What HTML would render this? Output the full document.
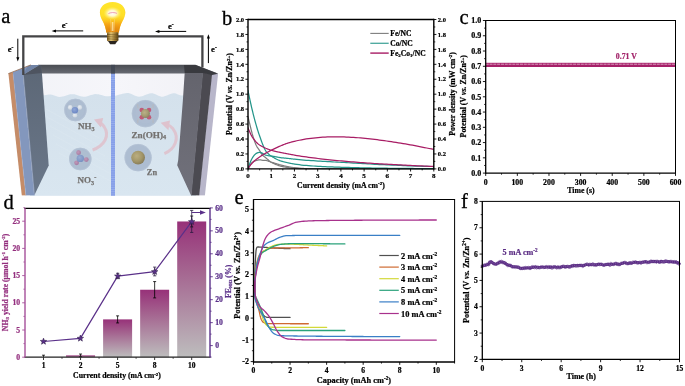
<!DOCTYPE html>
<html><head><meta charset="utf-8"><title>Figure</title>
<style>
html,body{margin:0;padding:0;background:#fff;}
body{width:685px;height:386px;overflow:hidden;}
svg{display:block;font-family:"Liberation Serif", serif;}
</style></head><body>
<svg width="685" height="386" viewBox="0 0 685 386">
<rect width="685" height="386" fill="#fff"/>
<defs>
<linearGradient id="gWater" x1="0" y1="0" x2="0" y2="1"><stop offset="0" stop-color="#d4e1ec"/><stop offset="1" stop-color="#d9e6f0"/></linearGradient>
<linearGradient id="gBack" x1="0" y1="0" x2="1" y2="0"><stop offset="0" stop-color="#f2f3f8"/><stop offset="0.5" stop-color="#f6f6fa"/><stop offset="1" stop-color="#f1f1f6"/></linearGradient>
<linearGradient id="gRim" x1="0" y1="0" x2="0" y2="1"><stop offset="0" stop-color="#4a4d53"/><stop offset="1" stop-color="#676a72"/></linearGradient>
<linearGradient id="gLE" x1="0" y1="0" x2="0" y2="1"><stop offset="0" stop-color="#5c6776"/><stop offset="1" stop-color="#6a7789"/></linearGradient>
<linearGradient id="gRE" x1="0" y1="0" x2="0" y2="1"><stop offset="0" stop-color="#64646d"/><stop offset="1" stop-color="#71717b"/></linearGradient>
<radialGradient id="gBulb" cx="0.5" cy="0.42" r="0.6"><stop offset="0" stop-color="#ffffff"/><stop offset="0.22" stop-color="#fff6b0"/><stop offset="0.5" stop-color="#ffe233"/><stop offset="0.8" stop-color="#fbc11f"/><stop offset="1" stop-color="#f29a15"/></radialGradient>
<linearGradient id="gBulbV" x1="0" y1="0" x2="0" y2="1"><stop offset="0" stop-color="#ffe42a" stop-opacity="0"/><stop offset="0.45" stop-color="#ffd21f" stop-opacity="0.3"/><stop offset="0.72" stop-color="#f5a015" stop-opacity="0.9"/><stop offset="1" stop-color="#d9780c" stop-opacity="1"/></linearGradient>
<radialGradient id="gBulbE" cx="0.5" cy="0.4" r="0.62"><stop offset="0.75" stop-color="#f0a010" stop-opacity="0"/><stop offset="1" stop-color="#e08a10" stop-opacity="0.75"/></radialGradient>
<radialGradient id="gGlow" cx="0.5" cy="0.5" r="0.5"><stop offset="0" stop-color="#fff" stop-opacity="1"/><stop offset="0.45" stop-color="#fffbe0" stop-opacity="0.9"/><stop offset="1" stop-color="#fff27a" stop-opacity="0"/></radialGradient>
<linearGradient id="gBase" x1="0" y1="0" x2="1" y2="0"><stop offset="0" stop-color="#7a5a20"/><stop offset="0.35" stop-color="#e3c474"/><stop offset="0.7" stop-color="#a07c34"/><stop offset="1" stop-color="#5a4214"/></linearGradient>
<radialGradient id="gZn" cx="0.4" cy="0.38" r="0.65"><stop offset="0" stop-color="#bcab72"/><stop offset="0.6" stop-color="#a08f56"/><stop offset="1" stop-color="#7d6e40"/></radialGradient>
<radialGradient id="gN" cx="0.4" cy="0.38" r="0.65"><stop offset="0" stop-color="#7f9ad8"/><stop offset="1" stop-color="#4d6cbc"/></radialGradient>
<radialGradient id="gN2" cx="0.4" cy="0.38" r="0.65"><stop offset="0" stop-color="#8fa4d2"/><stop offset="1" stop-color="#6580bb"/></radialGradient>
<radialGradient id="gO" cx="0.4" cy="0.38" r="0.65"><stop offset="0" stop-color="#c58bb0"/><stop offset="1" stop-color="#a0628f"/></radialGradient>
<radialGradient id="gH" cx="0.4" cy="0.38" r="0.7"><stop offset="0" stop-color="#ffffff"/><stop offset="1" stop-color="#d5dae2"/></radialGradient>
<clipPath id="ca"><rect x="0" y="0" width="222" height="195.7"/></clipPath>
</defs>
<g clip-path="url(#ca)">
<path d="M40 72 L203 72 L196 196 L30 196Z" fill="url(#gBack)"/>
<path d="M40 95.6 L41.5 95.49 L43 95.36 L44.5 95.18 L46 94.92 L47.5 94.66 L49 94.51 L50.5 94.57 L52 94.87 L53.5 95.31 L55 95.82 L56.5 96.31 L58 96.69 L59.5 96.89 L61 96.84 L62.5 96.58 L64 96.17 L65.5 95.69 L67 95.18 L68.5 94.71 L70 94.34 L71.5 94.13 L73 94.13 L74.5 94.36 L76 94.74 L77.5 95.22 L79 95.71 L80.5 96.17 L82 96.52 L83.5 96.69 L85 96.64 L86.5 96.4 L88 96.02 L89.5 95.56 L91 95.08 L92.5 94.65 L94 94.3 L95.5 94.12 L97 94.14 L98.5 94.35 L100 94.7 L101.5 95.11 L103 95.53 L104.5 95.89 L106 96.13 L107.5 96.2 L109 96.16 L110.5 96.08 L112 95.98 L113.5 95.85 L115 95.65 L116.5 95.38 L118 95.02 L119.5 94.61 L121 94.18 L122.5 93.77 L124 93.41 L125.5 93.14 L127 93.01 L128.5 93.08 L130 93.43 L131.5 94 L133 94.68 L134.5 95.39 L136 96.02 L137.5 96.49 L139 96.7 L140.5 96.59 L142 96.24 L143.5 95.72 L145 95.1 L146.5 94.46 L148 93.89 L149.5 93.45 L151 93.22 L152.5 93.29 L154 93.7 L155.5 94.34 L157 95.07 L158.5 95.79 L160 96.37 L161.5 96.68 L163 96.63 L164.5 96.32 L166 95.82 L167.5 95.21 L169 94.57 L170.5 93.97 L172 93.5 L173.5 93.23 L175 93.28 L176.5 93.76 L178 94.44 L179.5 95.07 L181 95.39 L182.5 95.4 L184 95.37 L185.5 95.31 L187 95.17 L188.5 94.94 L190 94.6 L196 196 L30 196Z" fill="url(#gWater)"/>
<path d="M44 108 L99 138" stroke="#e8f0f7" stroke-width="1" opacity="0.2" fill="none"/>
<path d="M47 117 L102 147" stroke="#e8f0f7" stroke-width="1" opacity="0.2" fill="none"/>
<path d="M50 126 L105 156" stroke="#e8f0f7" stroke-width="1" opacity="0.2" fill="none"/>
<path d="M53 135 L108 165" stroke="#e8f0f7" stroke-width="1" opacity="0.2" fill="none"/>
<path d="M56 144 L111 174" stroke="#e8f0f7" stroke-width="1" opacity="0.2" fill="none"/>
<path d="M59 153 L114 183" stroke="#e8f0f7" stroke-width="1" opacity="0.2" fill="none"/>
<rect x="111.0" y="72.5" width="4.0" height="124" fill="#869fe8"/>
<line x1="113.0" y1="72.5" x2="113.0" y2="196" stroke="#aabdf2" stroke-width="4.0" stroke-dasharray="0.8 1.4" opacity="0.5"/>
<path d="M38 64.8 L195.4 64.8 L218 73.6 L201 73.6 L40 73.6Z" fill="url(#gRim)"/>
<rect x="111.0" y="64.8" width="4.0" height="8.8" fill="#3f4653" opacity="0.8"/>
<path d="M8.4 73.6 L13.1 72 L25.9 195.6 L21.8 195.6Z" fill="#c58c68"/>
<path d="M13 72 L30.9 64.9 L39.5 65.1 L23 75 L34.2 195.6 L25.9 195.6 L13.1 74.2Z" fill="#8397bd"/>
<path d="M23 75 L39.5 65.1 L41 64.9 L41.9 72.5 L48.7 165.6 L34.2 195.6Z" fill="url(#gLE)"/>
<path d="M23 75 L39.5 65.1 L41 64.9 L41.9 73 L30 74.2Z" fill="#4b515c" opacity="0.85"/>
<path d="M23 75 L27.5 66.2 L30.9 64.9 L39.5 65.1Z" fill="#6a7c9c" opacity="0.7"/>
<path d="M23.3 75 L34.5 195.6" stroke="#a6b6da" stroke-width="0.7" fill="none" opacity="0.8"/>
<path d="M13.1 74.2 L25.9 195.6" stroke="#a3b4d8" stroke-width="0.6" fill="none" opacity="0.7"/>
<path d="M8.4 73.6 L30.9 64.9" stroke="#8e664c" stroke-width="0.8" fill="none"/>
<path d="M211.7 74 L218.1 73.7 L204.9 195.6 L198.8 195.6Z" fill="#b8b6ca"/>
<path d="M202.6 72.6 L212.1 74 L199.2 195.6 L191 195.6Z" fill="#4b4a51"/>
<path d="M184.7 72.6 L203.1 72.6 L191.5 195.6 L191.1 195.6 L177.2 165.3 L178.2 160 L182.9 100Z" fill="url(#gRE)"/>
<path d="M184 64.9 L195.4 64.9 L218.1 73.7 L212 74.9 L203 72.9 L184.7 72.9Z" fill="#393a3f"/>
<circle cx="75.4" cy="110" r="11.2" fill="#a3b3c9" opacity="0.8"/>
<circle cx="75.4" cy="110" r="10.899999999999999" fill="none" stroke="#bcc9da" stroke-width="0.6" opacity="0.8"/>
<circle cx="70.2" cy="107.4" r="2.3" fill="url(#gH)"/>
<circle cx="79.8" cy="107.4" r="2.3" fill="url(#gH)"/>
<circle cx="75.0" cy="115.2" r="2.3" fill="url(#gH)"/>
<circle cx="74.9" cy="110.2" r="3.2" fill="url(#gN)"/>
<circle cx="75.4" cy="110" r="9" fill="#b4c2d4" opacity="0.3"/>
<circle cx="80.3" cy="159" r="11.2" fill="#a3b3c9" opacity="0.8"/>
<circle cx="80.3" cy="159" r="10.899999999999999" fill="none" stroke="#bcc9da" stroke-width="0.6" opacity="0.8"/>
<circle cx="78.6" cy="152.7" r="2.4" fill="url(#gO)"/>
<circle cx="86.3" cy="159.6" r="2.4" fill="url(#gO)"/>
<circle cx="76.6" cy="162.8" r="2.4" fill="url(#gO)"/>
<circle cx="80.3" cy="158.4" r="3.7" fill="url(#gN2)"/>
<circle cx="80.3" cy="159" r="9" fill="#b4c2d4" opacity="0.25"/>
<circle cx="145.4" cy="113.6" r="13.6" fill="#a3b3c9" opacity="0.8"/>
<circle cx="145.4" cy="113.6" r="13.299999999999999" fill="none" stroke="#bcc9da" stroke-width="0.6" opacity="0.8"/>
<path d="M140.60000000000002 108.8 L138.0 107.6 L137.60000000000002 104.8" stroke="#b4bac4" stroke-width="1.6" fill="none" stroke-linecap="round" stroke-linejoin="round"/>
<circle cx="141.8" cy="110.0" r="2.3" fill="#c23e5c"/>
<path d="M150.2 108.8 L152.8 107.6 L153.2 104.8" stroke="#b4bac4" stroke-width="1.6" fill="none" stroke-linecap="round" stroke-linejoin="round"/>
<circle cx="149.0" cy="110.0" r="2.3" fill="#c23e5c"/>
<path d="M140.60000000000002 118.39999999999999 L138.0 119.6 L137.60000000000002 122.39999999999999" stroke="#b4bac4" stroke-width="1.6" fill="none" stroke-linecap="round" stroke-linejoin="round"/>
<circle cx="141.8" cy="117.19999999999999" r="2.3" fill="#c23e5c"/>
<path d="M150.2 118.39999999999999 L152.8 119.6 L153.2 122.39999999999999" stroke="#b4bac4" stroke-width="1.6" fill="none" stroke-linecap="round" stroke-linejoin="round"/>
<circle cx="149.0" cy="117.19999999999999" r="2.3" fill="#c23e5c"/>
<circle cx="145.4" cy="113.6" r="4.5" fill="url(#gZn)"/>
<circle cx="145.4" cy="113.6" r="10" fill="#b4c2d4" opacity="0.22"/>
<circle cx="138.1" cy="157.6" r="13.6" fill="#a3b3c9" opacity="0.8"/>
<circle cx="138.1" cy="157.6" r="13.299999999999999" fill="none" stroke="#bcc9da" stroke-width="0.6" opacity="0.8"/>
<circle cx="138.1" cy="157.6" r="6.9" fill="url(#gZn)"/>
<circle cx="138.1" cy="157.6" r="8" fill="#b4c2d4" opacity="0.15"/>
<path d="M92.6 150 C104 146 110.5 136 104 126.5 C102.6 124.6 101 123.2 99.4 122.4" fill="none" stroke="#dec2cd" stroke-width="3.0" opacity="0.92"/>
<path d="M94 119.6 L103.2 118 L100.8 127.6Z" fill="#dec2cd"/>
<path d="M164.4 153.6 C175 149 180 138 173 128.8 C171.2 126.6 169 125.2 167 124.6" fill="none" stroke="#dec2cd" stroke-width="3.0" opacity="0.92"/>
<path d="M160.6 122.8 L170 120.6 L168.4 130.2Z" fill="#dec2cd"/>
<text x="78.1" y="129.4" font-size="9.0" text-anchor="start" fill="#747270" font-weight="bold" stroke="#747270" stroke-width="0.25">NH<tspan dy="1.8" font-size="6.2">3</tspan></text>
<text x="77.6" y="183.1" font-size="9.0" text-anchor="start" fill="#747270" font-weight="bold" stroke="#747270" stroke-width="0.25">NO<tspan dy="1.8" font-size="6.2">3</tspan><tspan dy="-5.6" font-size="6.2">-</tspan></text>
<text x="131.4" y="137.5" font-size="9.2" text-anchor="start" fill="#747270" font-weight="bold" stroke="#747270" stroke-width="0.25">Zn(OH)<tspan dy="1.8" font-size="6.2">4</tspan></text>
<text x="146.8" y="175.3" font-size="8.4" text-anchor="start" fill="#747270" font-weight="bold" stroke="#747270" stroke-width="0.25">Zn</text>
</g>
<path d="M23.3 75 L23.3 36.3 L202.4 36.3 L202.4 67.6" fill="none" stroke="#444446" stroke-width="2.3" stroke-linejoin="miter"/>
<path d="M112.6 1.9 C121 1.9 125.3 7.2 125.3 12.4 C125.3 19 119.8 22.5 118.9 32.6 L106.4 32.6 C105.5 22.5 99.9 19 99.9 12.4 C99.9 7.2 104.2 1.9 112.6 1.9Z" fill="#ffe42a"/>
<path d="M112.6 1.9 C121 1.9 125.3 7.2 125.3 12.4 C125.3 19 119.8 22.5 118.9 32.6 L106.4 32.6 C105.5 22.5 99.9 19 99.9 12.4 C99.9 7.2 104.2 1.9 112.6 1.9Z" fill="url(#gBulbV)"/>
<path d="M112.6 1.9 C121 1.9 125.3 7.2 125.3 12.4 C125.3 19 119.8 22.5 118.9 32.6 L106.4 32.6 C105.5 22.5 99.9 19 99.9 12.4 C99.9 7.2 104.2 1.9 112.6 1.9Z" fill="url(#gBulbE)"/>
<ellipse cx="112.4" cy="13.2" rx="9" ry="6.5" fill="url(#gGlow)"/>
<path d="M108.4 13.6 C110 12.4 115 12.2 117 13.4" stroke="#e0608e" stroke-width="0.7" fill="none" opacity="0.85"/>
<path d="M111.2 31.5 L110.6 19 M114 31.5 L114.6 19" stroke="#f6d890" stroke-width="0.6" fill="none" opacity="0.8"/>
<path d="M112.6 31 L112.6 22" stroke="#fff3c0" stroke-width="1.6" fill="none" opacity="0.7"/>
<rect x="107" y="32.2" width="11.4" height="9" rx="1" fill="url(#gBase)"/>
<line x1="107" y1="34.4" x2="118.4" y2="35.0" stroke="#4e3a12" stroke-width="0.6" opacity="0.75"/>
<line x1="107" y1="36.6" x2="118.4" y2="37.2" stroke="#4e3a12" stroke-width="0.6" opacity="0.75"/>
<line x1="107" y1="38.8" x2="118.4" y2="39.4" stroke="#4e3a12" stroke-width="0.6" opacity="0.75"/>
<path d="M108 41 L117.4 41 L115.2 44.2 L110.2 44.2Z" fill="#2a241e"/>
<line x1="54" y1="30.9" x2="83.2" y2="30.9" stroke="#000" stroke-width="1.0" />
<path d="M51.6 30.9 L56 29.4 L56 32.4Z" fill="#000"/>
<text x="61.8" y="28" font-size="8.5" text-anchor="start" fill="#000" font-weight="bold"  stroke="#000" stroke-width="0.22">e<tspan dy="-3" font-size="5.5">-</tspan></text>
<line x1="157.5" y1="31.4" x2="186.2" y2="31.4" stroke="#000" stroke-width="1.0" />
<path d="M155 31.4 L159.4 29.9 L159.4 32.9Z" fill="#000"/>
<text x="168" y="28.8" font-size="8.5" text-anchor="start" fill="#000" font-weight="bold"  stroke="#000" stroke-width="0.22">e<tspan dy="-3" font-size="5.5">-</tspan></text>
<line x1="17.8" y1="38.7" x2="17.8" y2="59" stroke="#000" stroke-width="1.0" />
<path d="M17.8 61.6 L16.3 57.2 L19.3 57.2Z" fill="#000"/>
<text x="7.8" y="51.7" font-size="8.5" text-anchor="start" fill="#000" font-weight="bold"  stroke="#000" stroke-width="0.22">e<tspan dy="-3" font-size="5.5">-</tspan></text>
<line x1="208.4" y1="37" x2="208.4" y2="63.1" stroke="#000" stroke-width="1.0" />
<path d="M208.4 34.2 L206.9 38.6 L209.9 38.6Z" fill="#000"/>
<text x="211.1" y="51.7" font-size="8.5" text-anchor="start" fill="#000" font-weight="bold"  stroke="#000" stroke-width="0.22">e<tspan dy="-3" font-size="5.5">-</tspan></text>
<text x="1.2" y="23.1" font-size="20.5" text-anchor="start" fill="#000" font-weight="normal"  stroke="#000" stroke-width="0.3">a</text>
<clipPath id="cb"><rect x="248.0" y="19.5" width="185.8" height="149.9"/></clipPath><g clip-path="url(#cb)">
<path d="M248 116.61 L248.52 118.86 L249.04 121.07 L249.57 123.24 L250.09 125.37 L250.61 127.48 L251.13 129.61 L251.65 131.7 L252.18 133.68 L252.7 135.45 L253.22 137.11 L253.74 138.72 L254.26 140.26 L254.78 141.73 L255.31 143.11 L255.83 144.39 L256.35 145.55 L256.87 146.58 L257.39 147.46 L257.92 148.24 L258.44 148.95 L258.96 149.66 L259.48 150.4 L260 151.23 L260.53 152.14 L261.05 153.05 L261.57 153.9 L262.09 154.62 L262.61 155.19 L263.14 155.69 L263.66 156.15 L264.18 156.57 L264.7 156.97 L265.22 157.37 L265.74 157.77 L266.27 158.19 L266.79 158.64 L267.31 159.1 L267.83 159.57 L268.35 160.03 L268.88 160.48 L269.4 160.91 L269.92 161.32 L270.44 161.69 L270.96 162.03 L271.49 162.32 L272.01 162.6 L272.53 162.87 L273.05 163.13 L273.57 163.39 L274.1 163.64 L274.62 163.88 L275.14 164.12 L275.66 164.35 L276.18 164.57 L276.71 164.78 L277.23 164.99 L277.75 165.18 L278.27 165.37 L278.79 165.55 L279.31 165.72 L279.84 165.89 L280.36 166.04 L280.88 166.19 L281.4 166.33 L281.92 166.46 L282.45 166.58 L282.97 166.69 L283.49 166.79 L284.01 166.9 L284.53 167 L285.06 167.1 L285.58 167.19 L286.1 167.28 L286.62 167.37 L287.14 167.46 L287.67 167.55 L288.19 167.63 L288.71 167.7 L289.23 167.78 L289.75 167.85 L290.27 167.91 L290.8 167.98 L291.32 168.03 L291.84 168.09 L292.36 168.14 L292.88 168.19 L293.41 168.23 L293.93 168.27 L294.45 168.3 L296.81 168.44 L299.17 168.56 L301.54 168.65 L303.9 168.72 L306.26 168.75 L308.62 168.77 L310.98 168.79 L313.34 168.81 L315.71 168.82 L318.07 168.84 L320.43 168.85 L322.79 168.86 L325.15 168.87 L327.52 168.88 L329.88 168.89 L332.24 168.89 L334.6 168.9 L336.96 168.9 L339.33 168.9 L341.69 168.9 L344.05 168.9 L346.41 168.9 L348.77 168.9 L351.13 168.9 L353.5 168.9 L355.86 168.9 L358.22 168.9 L360.58 168.9 L362.94 168.9 L365.31 168.9 L367.67 168.9 L370.03 168.9 L372.39 168.9 L374.75 168.9 L377.12 168.9 L379.48 168.9 L381.84 168.9 L384.2 168.9 L386.56 168.9 L388.92 168.9 L391.29 168.9 L393.65 168.9 L396.01 168.9 L398.37 168.9 L400.73 168.9 L403.1 168.9 L405.46 168.9 L407.82 168.9 L410.18 168.9 L412.54 168.9 L414.91 168.9 L417.27 168.9 L419.63 168.9 L421.99 168.9 L424.35 168.9 L426.71 168.9 L429.08 168.9 L431.44 168.9 L433.8 168.9" fill="none" stroke="#7d7d7d" stroke-width="1.25" stroke-linejoin="round" stroke-linecap="round" />
<path d="M248 168.9 L248.52 167.78 L249.04 166.75 L249.57 165.82 L250.09 164.99 L250.61 164.25 L251.13 163.6 L251.65 163.05 L252.18 162.57 L252.7 162.14 L253.22 161.76 L253.74 161.44 L254.26 161.18 L254.78 160.96 L255.31 160.79 L255.83 160.64 L256.35 160.5 L256.87 160.37 L257.39 160.23 L257.92 160.08 L258.44 159.94 L258.96 159.82 L259.48 159.75 L260 159.77 L260.53 159.86 L261.05 160 L261.57 160.14 L262.09 160.23 L262.61 160.27 L263.14 160.29 L263.66 160.3 L264.18 160.31 L264.7 160.32 L265.22 160.35 L265.74 160.4 L266.27 160.48 L266.79 160.6 L267.31 160.75 L267.83 160.93 L268.35 161.12 L268.88 161.33 L269.4 161.54 L269.92 161.75 L270.44 161.94 L270.96 162.11 L271.49 162.24 L272.01 162.38 L272.53 162.53 L273.05 162.68 L273.57 162.83 L274.1 162.99 L274.62 163.15 L275.14 163.31 L275.66 163.48 L276.18 163.64 L276.71 163.81 L277.23 163.98 L277.75 164.14 L278.27 164.3 L278.79 164.46 L279.31 164.62 L279.84 164.77 L280.36 164.92 L280.88 165.06 L281.4 165.2 L281.92 165.33 L282.45 165.45 L282.97 165.57 L283.49 165.68 L284.01 165.79 L284.53 165.91 L285.06 166.02 L285.58 166.14 L286.1 166.25 L286.62 166.36 L287.14 166.48 L287.67 166.59 L288.19 166.69 L288.71 166.8 L289.23 166.91 L289.75 167.01 L290.27 167.1 L290.8 167.2 L291.32 167.29 L291.84 167.37 L292.36 167.45 L292.88 167.52 L293.41 167.59 L293.93 167.65 L294.45 167.7 L296.81 167.93 L299.17 168.14 L301.54 168.32 L303.9 168.46 L306.26 168.53 L308.62 168.57 L310.98 168.6 L313.34 168.64 L315.71 168.68 L318.07 168.71 L320.43 168.74 L322.79 168.77 L325.15 168.8 L327.52 168.83 L329.88 168.85 L332.24 168.87 L334.6 168.88 L336.96 168.89 L339.33 168.9 L341.69 168.9 L344.05 168.9 L346.41 168.9 L348.77 168.9 L351.13 168.9 L353.5 168.9 L355.86 168.9 L358.22 168.9 L360.58 168.9 L362.94 168.9 L365.31 168.9 L367.67 168.9 L370.03 168.9 L372.39 168.9 L374.75 168.9 L377.12 168.9 L379.48 168.9 L381.84 168.9 L384.2 168.9 L386.56 168.9 L388.92 168.9 L391.29 168.9 L393.65 168.9 L396.01 168.9 L398.37 168.9 L400.73 168.9 L403.1 168.9 L405.46 168.9 L407.82 168.9 L410.18 168.9 L412.54 168.9 L414.91 168.9 L417.27 168.9 L419.63 168.9 L421.99 168.9 L424.35 168.9 L426.71 168.9 L429.08 168.9 L431.44 168.9 L433.8 168.9" fill="none" stroke="#7d7d7d" stroke-width="1.25" stroke-linejoin="round" stroke-linecap="round" />
<path d="M248 90.47 L248.52 93.09 L249.04 95.66 L249.57 98.17 L250.09 100.61 L250.61 102.95 L251.13 105.26 L251.65 107.52 L252.18 109.75 L252.7 111.92 L253.22 114.05 L253.74 116.12 L254.26 118.13 L254.78 120.08 L255.31 121.98 L255.83 123.85 L256.35 125.69 L256.87 127.48 L257.39 129.22 L257.92 130.9 L258.44 132.53 L258.96 134.08 L259.48 135.57 L260 137.04 L260.53 138.52 L261.05 139.99 L261.57 141.44 L262.09 142.86 L262.61 144.23 L263.14 145.55 L263.66 146.79 L264.18 147.96 L264.7 149.03 L265.22 149.99 L265.74 150.83 L266.27 151.54 L266.79 152.18 L267.31 152.77 L267.83 153.32 L268.35 153.82 L268.88 154.29 L269.4 154.73 L269.92 155.14 L270.44 155.52 L270.96 155.88 L271.49 156.22 L272.01 156.56 L272.53 156.88 L273.05 157.2 L273.57 157.52 L274.1 157.82 L274.62 158.12 L275.14 158.41 L275.66 158.69 L276.18 158.96 L276.71 159.23 L277.23 159.48 L277.75 159.73 L278.27 159.96 L278.79 160.19 L279.31 160.4 L279.84 160.61 L280.36 160.8 L280.88 160.99 L281.4 161.16 L281.92 161.32 L282.45 161.47 L282.97 161.61 L283.49 161.75 L284.01 161.88 L284.53 162.01 L285.06 162.14 L285.58 162.26 L286.1 162.39 L286.62 162.51 L287.14 162.62 L287.67 162.74 L288.19 162.85 L288.71 162.97 L289.23 163.07 L289.75 163.18 L290.27 163.29 L290.8 163.39 L291.32 163.49 L291.84 163.59 L292.36 163.68 L292.88 163.78 L293.41 163.87 L293.93 163.96 L294.45 164.04 L296.81 164.41 L299.17 164.74 L301.54 165.02 L303.9 165.27 L306.26 165.48 L308.62 165.67 L310.98 165.84 L313.34 166 L315.71 166.15 L318.07 166.29 L320.43 166.43 L322.79 166.55 L325.15 166.66 L327.52 166.77 L329.88 166.87 L332.24 166.96 L334.6 167.05 L336.96 167.13 L339.33 167.21 L341.69 167.28 L344.05 167.35 L346.41 167.42 L348.77 167.48 L351.13 167.55 L353.5 167.61 L355.86 167.66 L358.22 167.72 L360.58 167.77 L362.94 167.83 L365.31 167.88 L367.67 167.92 L370.03 167.97 L372.39 168.01 L374.75 168.05 L377.12 168.09 L379.48 168.12 L381.84 168.16 L384.2 168.19 L386.56 168.22 L388.92 168.25 L391.29 168.27 L393.65 168.3 L396.01 168.33 L398.37 168.35 L400.73 168.38 L403.1 168.4 L405.46 168.43 L407.82 168.45 L410.18 168.47 L412.54 168.49 L414.91 168.51 L417.27 168.53 L419.63 168.54 L421.99 168.56 L424.35 168.57 L426.71 168.58 L429.08 168.59 L431.44 168.6 L433.8 168.6" fill="none" stroke="#25968a" stroke-width="1.25" stroke-linejoin="round" stroke-linecap="round" />
<path d="M248 168.9 L248.52 167.2 L249.04 165.61 L249.57 164.13 L250.09 162.76 L250.61 161.49 L251.13 160.32 L251.65 159.25 L252.18 158.27 L252.7 157.38 L253.22 156.57 L253.74 155.85 L254.26 155.21 L254.78 154.64 L255.31 154.14 L255.83 153.72 L256.35 153.36 L256.87 153.08 L257.39 152.85 L257.92 152.68 L258.44 152.55 L258.96 152.47 L259.48 152.42 L260 152.43 L260.53 152.52 L261.05 152.66 L261.57 152.86 L262.09 153.1 L262.61 153.38 L263.14 153.68 L263.66 154 L264.18 154.31 L264.7 154.61 L265.22 154.87 L265.74 155.09 L266.27 155.25 L266.79 155.37 L267.31 155.49 L267.83 155.59 L268.35 155.69 L268.88 155.77 L269.4 155.84 L269.92 155.91 L270.44 155.97 L270.96 156.02 L271.49 156.08 L272.01 156.14 L272.53 156.21 L273.05 156.29 L273.57 156.37 L274.1 156.45 L274.62 156.55 L275.14 156.64 L275.66 156.74 L276.18 156.84 L276.71 156.94 L277.23 157.05 L277.75 157.15 L278.27 157.25 L278.79 157.35 L279.31 157.44 L279.84 157.53 L280.36 157.62 L280.88 157.7 L281.4 157.77 L281.92 157.83 L282.45 157.89 L282.97 157.93 L283.49 157.97 L284.01 158.02 L284.53 158.06 L285.06 158.11 L285.58 158.16 L286.1 158.21 L286.62 158.27 L287.14 158.32 L287.67 158.38 L288.19 158.44 L288.71 158.5 L289.23 158.56 L289.75 158.62 L290.27 158.68 L290.8 158.74 L291.32 158.81 L291.84 158.87 L292.36 158.93 L292.88 159 L293.41 159.06 L293.93 159.12 L294.45 159.19 L296.81 159.47 L299.17 159.73 L301.54 159.97 L303.9 160.17 L306.26 160.32 L308.62 160.46 L310.98 160.6 L313.34 160.74 L315.71 160.89 L318.07 161.04 L320.43 161.18 L322.79 161.33 L325.15 161.47 L327.52 161.61 L329.88 161.74 L332.24 161.87 L334.6 162 L336.96 162.13 L339.33 162.25 L341.69 162.37 L344.05 162.49 L346.41 162.62 L348.77 162.75 L351.13 162.89 L353.5 163.02 L355.86 163.16 L358.22 163.3 L360.58 163.44 L362.94 163.58 L365.31 163.72 L367.67 163.86 L370.03 164 L372.39 164.13 L374.75 164.26 L377.12 164.39 L379.48 164.51 L381.84 164.62 L384.2 164.73 L386.56 164.83 L388.92 164.93 L391.29 165.03 L393.65 165.14 L396.01 165.24 L398.37 165.35 L400.73 165.46 L403.1 165.57 L405.46 165.68 L407.82 165.79 L410.18 165.89 L412.54 165.99 L414.91 166.09 L417.27 166.17 L419.63 166.25 L421.99 166.33 L424.35 166.39 L426.71 166.44 L429.08 166.48 L431.44 166.5 L433.8 166.51" fill="none" stroke="#25968a" stroke-width="1.25" stroke-linejoin="round" stroke-linecap="round" />
<path d="M248 127.81 L248.52 129.11 L249.04 130.37 L249.57 131.59 L250.09 132.77 L250.61 133.89 L251.13 134.94 L251.65 135.91 L252.18 136.81 L252.7 137.6 L253.22 138.34 L253.74 139.05 L254.26 139.74 L254.78 140.4 L255.31 141.02 L255.83 141.62 L256.35 142.19 L256.87 142.72 L257.39 143.23 L257.92 143.7 L258.44 144.14 L258.96 144.54 L259.48 144.91 L260 145.25 L260.53 145.58 L261.05 145.89 L261.57 146.2 L262.09 146.49 L262.61 146.77 L263.14 147.05 L263.66 147.31 L264.18 147.56 L264.7 147.8 L265.22 148.04 L265.74 148.27 L266.27 148.48 L266.79 148.69 L267.31 148.9 L267.83 149.09 L268.35 149.28 L268.88 149.47 L269.4 149.64 L269.92 149.82 L270.44 149.98 L270.96 150.15 L271.49 150.3 L272.01 150.46 L272.53 150.61 L273.05 150.75 L273.57 150.89 L274.1 151.03 L274.62 151.16 L275.14 151.29 L275.66 151.42 L276.18 151.54 L276.71 151.66 L277.23 151.78 L277.75 151.89 L278.27 152 L278.79 152.11 L279.31 152.22 L279.84 152.33 L280.36 152.43 L280.88 152.54 L281.4 152.64 L281.92 152.74 L282.45 152.84 L282.97 152.94 L283.49 153.04 L284.01 153.14 L284.53 153.24 L285.06 153.34 L285.58 153.44 L286.1 153.54 L286.62 153.64 L287.14 153.75 L287.67 153.85 L288.19 153.95 L288.71 154.04 L289.23 154.14 L289.75 154.24 L290.27 154.34 L290.8 154.44 L291.32 154.53 L291.84 154.63 L292.36 154.72 L292.88 154.82 L293.41 154.91 L293.93 155 L294.45 155.1 L296.81 155.51 L299.17 155.9 L301.54 156.28 L303.9 156.64 L306.26 156.98 L308.62 157.3 L310.98 157.62 L313.34 157.92 L315.71 158.22 L318.07 158.5 L320.43 158.78 L322.79 159.05 L325.15 159.32 L327.52 159.57 L329.88 159.82 L332.24 160.06 L334.6 160.3 L336.96 160.53 L339.33 160.75 L341.69 160.97 L344.05 161.18 L346.41 161.38 L348.77 161.58 L351.13 161.78 L353.5 161.97 L355.86 162.16 L358.22 162.34 L360.58 162.51 L362.94 162.69 L365.31 162.86 L367.67 163.03 L370.03 163.19 L372.39 163.35 L374.75 163.5 L377.12 163.65 L379.48 163.8 L381.84 163.94 L384.2 164.09 L386.56 164.22 L388.92 164.36 L391.29 164.49 L393.65 164.62 L396.01 164.74 L398.37 164.87 L400.73 164.99 L403.1 165.1 L405.46 165.22 L407.82 165.33 L410.18 165.45 L412.54 165.56 L414.91 165.67 L417.27 165.77 L419.63 165.88 L421.99 165.98 L424.35 166.08 L426.71 166.18 L429.08 166.28 L431.44 166.38 L433.8 166.47" fill="none" stroke="#a81c64" stroke-width="1.25" stroke-linejoin="round" stroke-linecap="round" />
<path d="M248 168.9 L248.52 168.01 L249.04 167.17 L249.57 166.38 L250.09 165.65 L250.61 164.97 L251.13 164.32 L251.65 163.71 L252.18 163.13 L252.7 162.57 L253.22 162.03 L253.74 161.52 L254.26 161.04 L254.78 160.57 L255.31 160.13 L255.83 159.7 L256.35 159.3 L256.87 158.9 L257.39 158.52 L257.92 158.14 L258.44 157.77 L258.96 157.4 L259.48 157.04 L260 156.68 L260.53 156.32 L261.05 155.97 L261.57 155.64 L262.09 155.3 L262.61 154.98 L263.14 154.66 L263.66 154.34 L264.18 154.03 L264.7 153.73 L265.22 153.43 L265.74 153.13 L266.27 152.84 L266.79 152.55 L267.31 152.27 L267.83 151.99 L268.35 151.71 L268.88 151.43 L269.4 151.16 L269.92 150.89 L270.44 150.62 L270.96 150.36 L271.49 150.09 L272.01 149.83 L272.53 149.58 L273.05 149.32 L273.57 149.07 L274.1 148.82 L274.62 148.57 L275.14 148.32 L275.66 148.08 L276.18 147.83 L276.71 147.59 L277.23 147.35 L277.75 147.11 L278.27 146.88 L278.79 146.64 L279.31 146.41 L279.84 146.19 L280.36 145.96 L280.88 145.74 L281.4 145.52 L281.92 145.3 L282.45 145.09 L282.97 144.88 L283.49 144.67 L284.01 144.47 L284.53 144.27 L285.06 144.08 L285.58 143.89 L286.1 143.71 L286.62 143.53 L287.14 143.36 L287.67 143.19 L288.19 143.02 L288.71 142.86 L289.23 142.7 L289.75 142.55 L290.27 142.4 L290.8 142.25 L291.32 142.1 L291.84 141.96 L292.36 141.82 L292.88 141.69 L293.41 141.55 L293.93 141.42 L294.45 141.29 L296.81 140.75 L299.17 140.26 L301.54 139.8 L303.9 139.38 L306.26 138.99 L308.62 138.62 L310.98 138.3 L313.34 138.01 L315.71 137.76 L318.07 137.54 L320.43 137.35 L322.79 137.19 L325.15 137.06 L327.52 136.96 L329.88 136.89 L332.24 136.84 L334.6 136.82 L336.96 136.83 L339.33 136.85 L341.69 136.9 L344.05 136.97 L346.41 137.05 L348.77 137.16 L351.13 137.28 L353.5 137.42 L355.86 137.58 L358.22 137.75 L360.58 137.95 L362.94 138.16 L365.31 138.39 L367.67 138.63 L370.03 138.89 L372.39 139.16 L374.75 139.44 L377.12 139.73 L379.48 140.03 L381.84 140.35 L384.2 140.67 L386.56 141 L388.92 141.34 L391.29 141.69 L393.65 142.04 L396.01 142.41 L398.37 142.78 L400.73 143.16 L403.1 143.55 L405.46 143.94 L407.82 144.35 L410.18 144.78 L412.54 145.21 L414.91 145.65 L417.27 146.11 L419.63 146.57 L421.99 147.04 L424.35 147.52 L426.71 148 L429.08 148.49 L431.44 148.98 L433.8 149.48" fill="none" stroke="#a81c64" stroke-width="1.25" stroke-linejoin="round" stroke-linecap="round" />
</g>
<line x1="248" y1="19.5" x2="433.8" y2="19.5" stroke="#000" stroke-width="1.3" />
<line x1="248" y1="168.9" x2="433.8" y2="168.9" stroke="#000" stroke-width="1.4" />
<line x1="248" y1="18.85" x2="248" y2="169.6" stroke="#000" stroke-width="1.4" />
<line x1="433.8" y1="18.85" x2="433.8" y2="169.6" stroke="#000" stroke-width="1.4" />
<line x1="245.4" y1="168.9" x2="248" y2="168.9" stroke="#000" stroke-width="0.9" />
<line x1="433.8" y1="168.9" x2="436.4" y2="168.9" stroke="#000" stroke-width="0.9" />
<text x="244" y="171.1" font-size="6.5" text-anchor="end" fill="#000" font-weight="bold"  stroke="#000" stroke-width="0.22">0.0</text>
<text x="437.8" y="171.1" font-size="6.5" text-anchor="start" fill="#000" font-weight="bold"  stroke="#000" stroke-width="0.22">0.0</text>
<line x1="246.5" y1="161.43" x2="248" y2="161.43" stroke="#000" stroke-width="0.8" />
<line x1="433.8" y1="161.43" x2="435.3" y2="161.43" stroke="#000" stroke-width="0.8" />
<line x1="245.4" y1="153.96" x2="248" y2="153.96" stroke="#000" stroke-width="0.9" />
<line x1="433.8" y1="153.96" x2="436.4" y2="153.96" stroke="#000" stroke-width="0.9" />
<text x="244" y="156.16" font-size="6.5" text-anchor="end" fill="#000" font-weight="bold"  stroke="#000" stroke-width="0.22">0.2</text>
<text x="437.8" y="156.16" font-size="6.5" text-anchor="start" fill="#000" font-weight="bold"  stroke="#000" stroke-width="0.22">0.2</text>
<line x1="246.5" y1="146.49" x2="248" y2="146.49" stroke="#000" stroke-width="0.8" />
<line x1="433.8" y1="146.49" x2="435.3" y2="146.49" stroke="#000" stroke-width="0.8" />
<line x1="245.4" y1="139.02" x2="248" y2="139.02" stroke="#000" stroke-width="0.9" />
<line x1="433.8" y1="139.02" x2="436.4" y2="139.02" stroke="#000" stroke-width="0.9" />
<text x="244" y="141.22" font-size="6.5" text-anchor="end" fill="#000" font-weight="bold"  stroke="#000" stroke-width="0.22">0.4</text>
<text x="437.8" y="141.22" font-size="6.5" text-anchor="start" fill="#000" font-weight="bold"  stroke="#000" stroke-width="0.22">0.4</text>
<line x1="246.5" y1="131.55" x2="248" y2="131.55" stroke="#000" stroke-width="0.8" />
<line x1="433.8" y1="131.55" x2="435.3" y2="131.55" stroke="#000" stroke-width="0.8" />
<line x1="245.4" y1="124.08" x2="248" y2="124.08" stroke="#000" stroke-width="0.9" />
<line x1="433.8" y1="124.08" x2="436.4" y2="124.08" stroke="#000" stroke-width="0.9" />
<text x="244" y="126.28" font-size="6.5" text-anchor="end" fill="#000" font-weight="bold"  stroke="#000" stroke-width="0.22">0.6</text>
<text x="437.8" y="126.28" font-size="6.5" text-anchor="start" fill="#000" font-weight="bold"  stroke="#000" stroke-width="0.22">0.6</text>
<line x1="246.5" y1="116.61" x2="248" y2="116.61" stroke="#000" stroke-width="0.8" />
<line x1="433.8" y1="116.61" x2="435.3" y2="116.61" stroke="#000" stroke-width="0.8" />
<line x1="245.4" y1="109.14" x2="248" y2="109.14" stroke="#000" stroke-width="0.9" />
<line x1="433.8" y1="109.14" x2="436.4" y2="109.14" stroke="#000" stroke-width="0.9" />
<text x="244" y="111.34" font-size="6.5" text-anchor="end" fill="#000" font-weight="bold"  stroke="#000" stroke-width="0.22">0.8</text>
<text x="437.8" y="111.34" font-size="6.5" text-anchor="start" fill="#000" font-weight="bold"  stroke="#000" stroke-width="0.22">0.8</text>
<line x1="246.5" y1="101.67" x2="248" y2="101.67" stroke="#000" stroke-width="0.8" />
<line x1="433.8" y1="101.67" x2="435.3" y2="101.67" stroke="#000" stroke-width="0.8" />
<line x1="245.4" y1="94.2" x2="248" y2="94.2" stroke="#000" stroke-width="0.9" />
<line x1="433.8" y1="94.2" x2="436.4" y2="94.2" stroke="#000" stroke-width="0.9" />
<text x="244" y="96.4" font-size="6.5" text-anchor="end" fill="#000" font-weight="bold"  stroke="#000" stroke-width="0.22">1.0</text>
<text x="437.8" y="96.4" font-size="6.5" text-anchor="start" fill="#000" font-weight="bold"  stroke="#000" stroke-width="0.22">1.0</text>
<line x1="246.5" y1="86.73" x2="248" y2="86.73" stroke="#000" stroke-width="0.8" />
<line x1="433.8" y1="86.73" x2="435.3" y2="86.73" stroke="#000" stroke-width="0.8" />
<line x1="245.4" y1="79.26" x2="248" y2="79.26" stroke="#000" stroke-width="0.9" />
<line x1="433.8" y1="79.26" x2="436.4" y2="79.26" stroke="#000" stroke-width="0.9" />
<text x="244" y="81.46" font-size="6.5" text-anchor="end" fill="#000" font-weight="bold"  stroke="#000" stroke-width="0.22">1.2</text>
<text x="437.8" y="81.46" font-size="6.5" text-anchor="start" fill="#000" font-weight="bold"  stroke="#000" stroke-width="0.22">1.2</text>
<line x1="246.5" y1="71.79" x2="248" y2="71.79" stroke="#000" stroke-width="0.8" />
<line x1="433.8" y1="71.79" x2="435.3" y2="71.79" stroke="#000" stroke-width="0.8" />
<line x1="245.4" y1="64.32" x2="248" y2="64.32" stroke="#000" stroke-width="0.9" />
<line x1="433.8" y1="64.32" x2="436.4" y2="64.32" stroke="#000" stroke-width="0.9" />
<text x="244" y="66.52" font-size="6.5" text-anchor="end" fill="#000" font-weight="bold"  stroke="#000" stroke-width="0.22">1.4</text>
<text x="437.8" y="66.52" font-size="6.5" text-anchor="start" fill="#000" font-weight="bold"  stroke="#000" stroke-width="0.22">1.4</text>
<line x1="246.5" y1="56.85" x2="248" y2="56.85" stroke="#000" stroke-width="0.8" />
<line x1="433.8" y1="56.85" x2="435.3" y2="56.85" stroke="#000" stroke-width="0.8" />
<line x1="245.4" y1="49.38" x2="248" y2="49.38" stroke="#000" stroke-width="0.9" />
<line x1="433.8" y1="49.38" x2="436.4" y2="49.38" stroke="#000" stroke-width="0.9" />
<text x="244" y="51.58" font-size="6.5" text-anchor="end" fill="#000" font-weight="bold"  stroke="#000" stroke-width="0.22">1.6</text>
<text x="437.8" y="51.58" font-size="6.5" text-anchor="start" fill="#000" font-weight="bold"  stroke="#000" stroke-width="0.22">1.6</text>
<line x1="246.5" y1="41.91" x2="248" y2="41.91" stroke="#000" stroke-width="0.8" />
<line x1="433.8" y1="41.91" x2="435.3" y2="41.91" stroke="#000" stroke-width="0.8" />
<line x1="245.4" y1="34.44" x2="248" y2="34.44" stroke="#000" stroke-width="0.9" />
<line x1="433.8" y1="34.44" x2="436.4" y2="34.44" stroke="#000" stroke-width="0.9" />
<text x="244" y="36.64" font-size="6.5" text-anchor="end" fill="#000" font-weight="bold"  stroke="#000" stroke-width="0.22">1.8</text>
<text x="437.8" y="36.64" font-size="6.5" text-anchor="start" fill="#000" font-weight="bold"  stroke="#000" stroke-width="0.22">1.8</text>
<line x1="246.5" y1="26.97" x2="248" y2="26.97" stroke="#000" stroke-width="0.8" />
<line x1="433.8" y1="26.97" x2="435.3" y2="26.97" stroke="#000" stroke-width="0.8" />
<line x1="245.4" y1="19.5" x2="248" y2="19.5" stroke="#000" stroke-width="0.9" />
<line x1="433.8" y1="19.5" x2="436.4" y2="19.5" stroke="#000" stroke-width="0.9" />
<text x="244" y="21.7" font-size="6.5" text-anchor="end" fill="#000" font-weight="bold"  stroke="#000" stroke-width="0.22">2.0</text>
<text x="437.8" y="21.7" font-size="6.5" text-anchor="start" fill="#000" font-weight="bold"  stroke="#000" stroke-width="0.22">2.0</text>
<line x1="248" y1="168.9" x2="248" y2="171.5" stroke="#000" stroke-width="0.9" />
<text x="248" y="178.4" font-size="7" text-anchor="middle" fill="#000" font-weight="bold"  stroke="#000" stroke-width="0.22">0</text>
<line x1="259.61" y1="168.9" x2="259.61" y2="170.4" stroke="#000" stroke-width="0.8" />
<line x1="271.23" y1="168.9" x2="271.23" y2="171.5" stroke="#000" stroke-width="0.9" />
<text x="271.23" y="178.4" font-size="7" text-anchor="middle" fill="#000" font-weight="bold"  stroke="#000" stroke-width="0.22">1</text>
<line x1="282.84" y1="168.9" x2="282.84" y2="170.4" stroke="#000" stroke-width="0.8" />
<line x1="294.45" y1="168.9" x2="294.45" y2="171.5" stroke="#000" stroke-width="0.9" />
<text x="294.45" y="178.4" font-size="7" text-anchor="middle" fill="#000" font-weight="bold"  stroke="#000" stroke-width="0.22">2</text>
<line x1="306.06" y1="168.9" x2="306.06" y2="170.4" stroke="#000" stroke-width="0.8" />
<line x1="317.68" y1="168.9" x2="317.68" y2="171.5" stroke="#000" stroke-width="0.9" />
<text x="317.68" y="178.4" font-size="7" text-anchor="middle" fill="#000" font-weight="bold"  stroke="#000" stroke-width="0.22">3</text>
<line x1="329.29" y1="168.9" x2="329.29" y2="170.4" stroke="#000" stroke-width="0.8" />
<line x1="340.9" y1="168.9" x2="340.9" y2="171.5" stroke="#000" stroke-width="0.9" />
<text x="340.9" y="178.4" font-size="7" text-anchor="middle" fill="#000" font-weight="bold"  stroke="#000" stroke-width="0.22">4</text>
<line x1="352.51" y1="168.9" x2="352.51" y2="170.4" stroke="#000" stroke-width="0.8" />
<line x1="364.12" y1="168.9" x2="364.12" y2="171.5" stroke="#000" stroke-width="0.9" />
<text x="364.12" y="178.4" font-size="7" text-anchor="middle" fill="#000" font-weight="bold"  stroke="#000" stroke-width="0.22">5</text>
<line x1="375.74" y1="168.9" x2="375.74" y2="170.4" stroke="#000" stroke-width="0.8" />
<line x1="387.35" y1="168.9" x2="387.35" y2="171.5" stroke="#000" stroke-width="0.9" />
<text x="387.35" y="178.4" font-size="7" text-anchor="middle" fill="#000" font-weight="bold"  stroke="#000" stroke-width="0.22">6</text>
<line x1="398.96" y1="168.9" x2="398.96" y2="170.4" stroke="#000" stroke-width="0.8" />
<line x1="410.58" y1="168.9" x2="410.58" y2="171.5" stroke="#000" stroke-width="0.9" />
<text x="410.58" y="178.4" font-size="7" text-anchor="middle" fill="#000" font-weight="bold"  stroke="#000" stroke-width="0.22">7</text>
<line x1="422.19" y1="168.9" x2="422.19" y2="170.4" stroke="#000" stroke-width="0.8" />
<line x1="433.8" y1="168.9" x2="433.8" y2="171.5" stroke="#000" stroke-width="0.9" />
<text x="433.8" y="178.4" font-size="7" text-anchor="middle" fill="#000" font-weight="bold"  stroke="#000" stroke-width="0.22">8</text>
<text x="340.9" y="187.5" font-size="7.8" text-anchor="middle" fill="#000" font-weight="bold"  stroke="#000" stroke-width="0.22">Current density (mA cm<tspan dy="-2.6" font-size="4.9">-2</tspan><tspan dy="2.6">&#8203;</tspan>)</text>
<text x="232.4" y="94.1" font-size="7.85" text-anchor="middle" fill="#000" font-weight="bold" transform="rotate(-90 232.4 94.1)"  stroke="#000" stroke-width="0.22">Potential (V <tspan font-style="italic">vs.</tspan> Zn/Zn<tspan dy="-2.5" font-size="5">2+</tspan><tspan dy="2.5">&#8203;</tspan>)</text>
<text x="455" y="94" font-size="7.75" text-anchor="middle" fill="#000" font-weight="bold" transform="rotate(-90 455 94)"  stroke="#000" stroke-width="0.22">Power density (mW cm<tspan dy="-2.6" font-size="4.9">-2</tspan><tspan dy="2.6">&#8203;</tspan>)</text>
<line x1="370.3" y1="33.4" x2="388.7" y2="33.4" stroke="#7d7d7d" stroke-width="1.1" />
<text x="390.3" y="35.8" font-size="7.6" text-anchor="start" fill="#000" font-weight="bold"  stroke="#000" stroke-width="0.22">Fe/NC</text>
<line x1="370.3" y1="43.25" x2="388.7" y2="43.25" stroke="#25968a" stroke-width="1.1" />
<text x="390.3" y="45.65" font-size="7.6" text-anchor="start" fill="#000" font-weight="bold"  stroke="#000" stroke-width="0.22">Co/NC</text>
<line x1="370.3" y1="53.1" x2="388.7" y2="53.1" stroke="#a81c64" stroke-width="1.4" />
<text x="390.3" y="55.5" font-size="7.6" text-anchor="start" fill="#000" font-weight="bold"  stroke="#000" stroke-width="0.22">Fe<tspan dy="1.4" font-size="5">2</tspan><tspan dy="-1.4">Co</tspan><tspan dy="1.4" font-size="5">1</tspan><tspan dy="-1.4">/NC</tspan></text>
<text x="222" y="25.4" font-size="20.5" text-anchor="start" fill="#000" font-weight="normal"  stroke="#000" stroke-width="0.3">b</text>
<rect x="485.7" y="62.8" width="189.8" height="4.2" fill="#a62069"/>
<line x1="485.7" y1="64.2" x2="675.5" y2="64.2" stroke="#efc9dd" stroke-width="0.75" stroke-dasharray="3.1 0.7"/>
<text x="626.4" y="59.1" font-size="7.8" text-anchor="middle" fill="#a3266b" font-weight="bold"  stroke="#a3266b" stroke-width="0.22">0.71 V</text>
<line x1="485.7" y1="20.5" x2="676" y2="20.5" stroke="#000" stroke-width="1.0" />
<line x1="675.5" y1="20.5" x2="675.5" y2="173.1" stroke="#000" stroke-width="1.0" />
<line x1="485.7" y1="173.1" x2="675.9" y2="173.1" stroke="#000" stroke-width="1.3" />
<line x1="485.7" y1="20.1" x2="485.7" y2="173.7" stroke="#000" stroke-width="1.3" />
<line x1="482.9" y1="173.1" x2="485.7" y2="173.1" stroke="#000" stroke-width="0.9" />
<text x="481.3" y="175.8" font-size="8.0" text-anchor="end" fill="#000" font-weight="bold"  stroke="#000" stroke-width="0.22">0.0</text>
<line x1="484.1" y1="165.47" x2="485.7" y2="165.47" stroke="#000" stroke-width="0.8" />
<line x1="482.9" y1="157.84" x2="485.7" y2="157.84" stroke="#000" stroke-width="0.9" />
<text x="481.3" y="160.54" font-size="8.0" text-anchor="end" fill="#000" font-weight="bold"  stroke="#000" stroke-width="0.22">0.1</text>
<line x1="484.1" y1="150.21" x2="485.7" y2="150.21" stroke="#000" stroke-width="0.8" />
<line x1="482.9" y1="142.58" x2="485.7" y2="142.58" stroke="#000" stroke-width="0.9" />
<text x="481.3" y="145.28" font-size="8.0" text-anchor="end" fill="#000" font-weight="bold"  stroke="#000" stroke-width="0.22">0.2</text>
<line x1="484.1" y1="134.95" x2="485.7" y2="134.95" stroke="#000" stroke-width="0.8" />
<line x1="482.9" y1="127.32" x2="485.7" y2="127.32" stroke="#000" stroke-width="0.9" />
<text x="481.3" y="130.02" font-size="8.0" text-anchor="end" fill="#000" font-weight="bold"  stroke="#000" stroke-width="0.22">0.3</text>
<line x1="484.1" y1="119.69" x2="485.7" y2="119.69" stroke="#000" stroke-width="0.8" />
<line x1="482.9" y1="112.06" x2="485.7" y2="112.06" stroke="#000" stroke-width="0.9" />
<text x="481.3" y="114.76" font-size="8.0" text-anchor="end" fill="#000" font-weight="bold"  stroke="#000" stroke-width="0.22">0.4</text>
<line x1="484.1" y1="104.43" x2="485.7" y2="104.43" stroke="#000" stroke-width="0.8" />
<line x1="482.9" y1="96.8" x2="485.7" y2="96.8" stroke="#000" stroke-width="0.9" />
<text x="481.3" y="99.5" font-size="8.0" text-anchor="end" fill="#000" font-weight="bold"  stroke="#000" stroke-width="0.22">0.5</text>
<line x1="484.1" y1="89.17" x2="485.7" y2="89.17" stroke="#000" stroke-width="0.8" />
<line x1="482.9" y1="81.54" x2="485.7" y2="81.54" stroke="#000" stroke-width="0.9" />
<text x="481.3" y="84.24" font-size="8.0" text-anchor="end" fill="#000" font-weight="bold"  stroke="#000" stroke-width="0.22">0.6</text>
<line x1="484.1" y1="73.91" x2="485.7" y2="73.91" stroke="#000" stroke-width="0.8" />
<line x1="482.9" y1="66.28" x2="485.7" y2="66.28" stroke="#000" stroke-width="0.9" />
<text x="481.3" y="68.98" font-size="8.0" text-anchor="end" fill="#000" font-weight="bold"  stroke="#000" stroke-width="0.22">0.7</text>
<line x1="484.1" y1="58.65" x2="485.7" y2="58.65" stroke="#000" stroke-width="0.8" />
<line x1="482.9" y1="51.02" x2="485.7" y2="51.02" stroke="#000" stroke-width="0.9" />
<text x="481.3" y="53.72" font-size="8.0" text-anchor="end" fill="#000" font-weight="bold"  stroke="#000" stroke-width="0.22">0.8</text>
<line x1="484.1" y1="43.39" x2="485.7" y2="43.39" stroke="#000" stroke-width="0.8" />
<line x1="482.9" y1="35.76" x2="485.7" y2="35.76" stroke="#000" stroke-width="0.9" />
<text x="481.3" y="38.46" font-size="8.0" text-anchor="end" fill="#000" font-weight="bold"  stroke="#000" stroke-width="0.22">0.9</text>
<line x1="484.1" y1="28.13" x2="485.7" y2="28.13" stroke="#000" stroke-width="0.8" />
<line x1="482.9" y1="20.5" x2="485.7" y2="20.5" stroke="#000" stroke-width="0.9" />
<text x="481.3" y="23.2" font-size="8.0" text-anchor="end" fill="#000" font-weight="bold"  stroke="#000" stroke-width="0.22">1.0</text>
<line x1="485.7" y1="173.1" x2="485.7" y2="175.9" stroke="#000" stroke-width="0.9" />
<text x="485.7" y="184.8" font-size="7.8" text-anchor="middle" fill="#000" font-weight="bold"  stroke="#000" stroke-width="0.22">0</text>
<line x1="501.52" y1="173.1" x2="501.52" y2="174.7" stroke="#000" stroke-width="0.8" />
<line x1="517.33" y1="173.1" x2="517.33" y2="175.9" stroke="#000" stroke-width="0.9" />
<text x="517.33" y="184.8" font-size="7.8" text-anchor="middle" fill="#000" font-weight="bold"  stroke="#000" stroke-width="0.22">100</text>
<line x1="533.15" y1="173.1" x2="533.15" y2="174.7" stroke="#000" stroke-width="0.8" />
<line x1="548.97" y1="173.1" x2="548.97" y2="175.9" stroke="#000" stroke-width="0.9" />
<text x="548.97" y="184.8" font-size="7.8" text-anchor="middle" fill="#000" font-weight="bold"  stroke="#000" stroke-width="0.22">200</text>
<line x1="564.78" y1="173.1" x2="564.78" y2="174.7" stroke="#000" stroke-width="0.8" />
<line x1="580.6" y1="173.1" x2="580.6" y2="175.9" stroke="#000" stroke-width="0.9" />
<text x="580.6" y="184.8" font-size="7.8" text-anchor="middle" fill="#000" font-weight="bold"  stroke="#000" stroke-width="0.22">300</text>
<line x1="596.42" y1="173.1" x2="596.42" y2="174.7" stroke="#000" stroke-width="0.8" />
<line x1="612.23" y1="173.1" x2="612.23" y2="175.9" stroke="#000" stroke-width="0.9" />
<text x="612.23" y="184.8" font-size="7.8" text-anchor="middle" fill="#000" font-weight="bold"  stroke="#000" stroke-width="0.22">400</text>
<line x1="628.05" y1="173.1" x2="628.05" y2="174.7" stroke="#000" stroke-width="0.8" />
<line x1="643.87" y1="173.1" x2="643.87" y2="175.9" stroke="#000" stroke-width="0.9" />
<text x="643.87" y="184.8" font-size="7.8" text-anchor="middle" fill="#000" font-weight="bold"  stroke="#000" stroke-width="0.22">500</text>
<line x1="659.68" y1="173.1" x2="659.68" y2="174.7" stroke="#000" stroke-width="0.8" />
<line x1="675.5" y1="173.1" x2="675.5" y2="175.9" stroke="#000" stroke-width="0.9" />
<text x="675.5" y="184.8" font-size="7.8" text-anchor="middle" fill="#000" font-weight="bold"  stroke="#000" stroke-width="0.22">600</text>
<text x="580.9" y="193.1" font-size="7.75" text-anchor="middle" fill="#000" font-weight="bold"  stroke="#000" stroke-width="0.22">Time (s)</text>
<text x="466.5" y="96.2" font-size="7.9" text-anchor="middle" fill="#000" font-weight="bold" transform="rotate(-90 466.5 96.2)"  stroke="#000" stroke-width="0.22">Potential (V <tspan font-style="italic">vs.</tspan> Zn/Zn<tspan dy="-2.5" font-size="5">2+</tspan><tspan dy="2.5">&#8203;</tspan>)</text>
<text x="459.6" y="24.2" font-size="20.5" text-anchor="start" fill="#000" font-weight="normal"  stroke="#000" stroke-width="0.3">c</text>
<linearGradient id="gd" x1="0" y1="0" x2="0" y2="1"><stop offset="0" stop-color="#973179"/><stop offset="0.35" stop-color="#a4638f"/><stop offset="1" stop-color="#bdbdbd"/></linearGradient>
<linearGradient id="gd2" x1="0" y1="0" x2="0" y2="1"><stop offset="0" stop-color="#973179"/><stop offset="1" stop-color="#b98fae"/></linearGradient>
<line x1="43.5" y1="355.2" x2="43.5" y2="357.2" stroke="#000" stroke-width="0.8" />
<line x1="42" y1="355.2" x2="45" y2="355.2" stroke="#000" stroke-width="0.8" />
<rect x="66.05" y="355.4" width="29" height="1.8" fill="url(#gd2)"/>
<line x1="80.55" y1="356.76" x2="80.55" y2="354.04" stroke="#000" stroke-width="0.8" />
<line x1="79.05" y1="354.04" x2="82.05" y2="354.04" stroke="#000" stroke-width="0.8" />
<line x1="79.05" y1="356.76" x2="82.05" y2="356.76" stroke="#000" stroke-width="0.8" />
<rect x="103.1" y="319.39" width="29" height="37.81" fill="url(#gd)"/>
<line x1="117.6" y1="322.93" x2="117.6" y2="315.86" stroke="#000" stroke-width="0.8" />
<line x1="116.1" y1="315.86" x2="119.1" y2="315.86" stroke="#000" stroke-width="0.8" />
<line x1="116.1" y1="322.93" x2="119.1" y2="322.93" stroke="#000" stroke-width="0.8" />
<rect x="140.15" y="289.74" width="29" height="67.46" fill="url(#gd)"/>
<line x1="154.65" y1="297.9" x2="154.65" y2="281.58" stroke="#000" stroke-width="0.8" />
<line x1="153.15" y1="281.58" x2="156.15" y2="281.58" stroke="#000" stroke-width="0.8" />
<line x1="153.15" y1="297.9" x2="156.15" y2="297.9" stroke="#000" stroke-width="0.8" />
<rect x="177.2" y="221.47" width="29" height="135.73" fill="url(#gd)"/>
<line x1="191.7" y1="226.91" x2="191.7" y2="216.03" stroke="#000" stroke-width="0.8" />
<line x1="190.2" y1="216.03" x2="193.2" y2="216.03" stroke="#000" stroke-width="0.8" />
<line x1="190.2" y1="226.91" x2="193.2" y2="226.91" stroke="#000" stroke-width="0.8" />
<path d="M43.5 341.5 L80.4 338.4 L117.7 276.1 L154.7 271.7 L191.7 221.7" fill="none" stroke="#5a3089" stroke-width="1.2" stroke-linejoin="round" stroke-linecap="round" />
<path d="M43.5 338.1 L44.35 340.33 L46.73 340.45 L44.88 341.95 L45.5 344.25 L43.5 342.95 L41.5 344.25 L42.12 341.95 L40.27 340.45 L42.65 340.33Z" fill="#5a3089" stroke="#2a1a40" stroke-width="0.5"/>
<path d="M80.4 335 L81.25 337.23 L83.63 337.35 L81.78 338.85 L82.4 341.15 L80.4 339.85 L78.4 341.15 L79.02 338.85 L77.17 337.35 L79.55 337.23Z" fill="#5a3089" stroke="#2a1a40" stroke-width="0.5"/>
<line x1="117.7" y1="273.3" x2="117.7" y2="278.62" stroke="#2a1a40" stroke-width="0.8" />
<line x1="116.1" y1="273.3" x2="119.3" y2="273.3" stroke="#2a1a40" stroke-width="0.8" />
<line x1="116.1" y1="278.62" x2="119.3" y2="278.62" stroke="#2a1a40" stroke-width="0.8" />
<path d="M117.7 272.7 L118.55 274.93 L120.93 275.05 L119.08 276.55 L119.7 278.85 L117.7 277.55 L115.7 278.85 L116.32 276.55 L114.47 275.05 L116.85 274.93Z" fill="#5a3089" stroke="#2a1a40" stroke-width="0.5"/>
<line x1="154.7" y1="267.1" x2="154.7" y2="275.84" stroke="#2a1a40" stroke-width="0.8" />
<line x1="153.1" y1="267.1" x2="156.3" y2="267.1" stroke="#2a1a40" stroke-width="0.8" />
<line x1="153.1" y1="275.84" x2="156.3" y2="275.84" stroke="#2a1a40" stroke-width="0.8" />
<path d="M154.7 268.3 L155.55 270.53 L157.93 270.65 L156.08 272.15 L156.7 274.45 L154.7 273.15 L152.7 274.45 L153.32 272.15 L151.47 270.65 L153.85 270.53Z" fill="#5a3089" stroke="#2a1a40" stroke-width="0.5"/>
<line x1="191.7" y1="210.4" x2="191.7" y2="232.44" stroke="#2a1a40" stroke-width="0.8" />
<line x1="190.1" y1="210.4" x2="193.3" y2="210.4" stroke="#2a1a40" stroke-width="0.8" />
<line x1="190.1" y1="232.44" x2="193.3" y2="232.44" stroke="#2a1a40" stroke-width="0.8" />
<path d="M191.7 218.3 L192.55 220.53 L194.93 220.65 L193.08 222.15 L193.7 224.45 L191.7 223.15 L189.7 224.45 L190.32 222.15 L188.47 220.65 L190.85 220.53Z" fill="#5a3089" stroke="#2a1a40" stroke-width="0.5"/>
<line x1="191.7" y1="212.5" x2="201.5" y2="212.5" stroke="#5a3089" stroke-width="1.0" />
<path d="M205.8 212.5 L200 210.2 L200 214.8Z" fill="#5a3089"/>
<line x1="24.4" y1="208.3" x2="210.6" y2="208.3" stroke="#000" stroke-width="1.2" />
<line x1="24.4" y1="357.2" x2="210.6" y2="357.2" stroke="#222" stroke-width="1.3" />
<line x1="25" y1="208.3" x2="25" y2="357.2" stroke="#a5509a" stroke-width="1.4" />
<line x1="210" y1="208.3" x2="210" y2="357.2" stroke="#5a3089" stroke-width="1.4" />
<line x1="22.2" y1="357.2" x2="25" y2="357.2" stroke="#a5509a" stroke-width="0.9" />
<text x="20.1" y="359.8" font-size="7.7" text-anchor="end" fill="#94307f" font-weight="bold"  stroke="#94307f" stroke-width="0.22">0</text>
<line x1="23.4" y1="343.6" x2="25" y2="343.6" stroke="#a5509a" stroke-width="0.8" />
<line x1="22.2" y1="330" x2="25" y2="330" stroke="#a5509a" stroke-width="0.9" />
<text x="20.1" y="332.6" font-size="7.7" text-anchor="end" fill="#94307f" font-weight="bold"  stroke="#94307f" stroke-width="0.22">5</text>
<line x1="23.4" y1="316.4" x2="25" y2="316.4" stroke="#a5509a" stroke-width="0.8" />
<line x1="22.2" y1="302.8" x2="25" y2="302.8" stroke="#a5509a" stroke-width="0.9" />
<text x="20.1" y="305.4" font-size="7.7" text-anchor="end" fill="#94307f" font-weight="bold"  stroke="#94307f" stroke-width="0.22">10</text>
<line x1="23.4" y1="289.2" x2="25" y2="289.2" stroke="#a5509a" stroke-width="0.8" />
<line x1="22.2" y1="275.6" x2="25" y2="275.6" stroke="#a5509a" stroke-width="0.9" />
<text x="20.1" y="278.2" font-size="7.7" text-anchor="end" fill="#94307f" font-weight="bold"  stroke="#94307f" stroke-width="0.22">15</text>
<line x1="23.4" y1="262" x2="25" y2="262" stroke="#a5509a" stroke-width="0.8" />
<line x1="22.2" y1="248.4" x2="25" y2="248.4" stroke="#a5509a" stroke-width="0.9" />
<text x="20.1" y="251" font-size="7.7" text-anchor="end" fill="#94307f" font-weight="bold"  stroke="#94307f" stroke-width="0.22">20</text>
<line x1="23.4" y1="234.8" x2="25" y2="234.8" stroke="#a5509a" stroke-width="0.8" />
<line x1="22.2" y1="221.2" x2="25" y2="221.2" stroke="#a5509a" stroke-width="0.9" />
<text x="20.1" y="223.8" font-size="7.7" text-anchor="end" fill="#94307f" font-weight="bold"  stroke="#94307f" stroke-width="0.22">25</text>
<line x1="23.4" y1="207.6" x2="25" y2="207.6" stroke="#a5509a" stroke-width="0.8" />
<line x1="210" y1="345.6" x2="212.8" y2="345.6" stroke="#5a3089" stroke-width="0.9" />
<text x="215.2" y="348.2" font-size="7.7" text-anchor="start" fill="#5a3089" font-weight="bold"  stroke="#5a3089" stroke-width="0.22">0</text>
<line x1="210" y1="334.12" x2="211.6" y2="334.12" stroke="#5a3089" stroke-width="0.8" />
<line x1="210" y1="322.65" x2="212.8" y2="322.65" stroke="#5a3089" stroke-width="0.9" />
<text x="215.2" y="325.25" font-size="7.7" text-anchor="start" fill="#5a3089" font-weight="bold"  stroke="#5a3089" stroke-width="0.22">10</text>
<line x1="210" y1="311.18" x2="211.6" y2="311.18" stroke="#5a3089" stroke-width="0.8" />
<line x1="210" y1="299.7" x2="212.8" y2="299.7" stroke="#5a3089" stroke-width="0.9" />
<text x="215.2" y="302.3" font-size="7.7" text-anchor="start" fill="#5a3089" font-weight="bold"  stroke="#5a3089" stroke-width="0.22">20</text>
<line x1="210" y1="288.23" x2="211.6" y2="288.23" stroke="#5a3089" stroke-width="0.8" />
<line x1="210" y1="276.75" x2="212.8" y2="276.75" stroke="#5a3089" stroke-width="0.9" />
<text x="215.2" y="279.35" font-size="7.7" text-anchor="start" fill="#5a3089" font-weight="bold"  stroke="#5a3089" stroke-width="0.22">30</text>
<line x1="210" y1="265.28" x2="211.6" y2="265.28" stroke="#5a3089" stroke-width="0.8" />
<line x1="210" y1="253.8" x2="212.8" y2="253.8" stroke="#5a3089" stroke-width="0.9" />
<text x="215.2" y="256.4" font-size="7.7" text-anchor="start" fill="#5a3089" font-weight="bold"  stroke="#5a3089" stroke-width="0.22">40</text>
<line x1="210" y1="242.33" x2="211.6" y2="242.33" stroke="#5a3089" stroke-width="0.8" />
<line x1="210" y1="230.85" x2="212.8" y2="230.85" stroke="#5a3089" stroke-width="0.9" />
<text x="215.2" y="233.45" font-size="7.7" text-anchor="start" fill="#5a3089" font-weight="bold"  stroke="#5a3089" stroke-width="0.22">50</text>
<line x1="210" y1="219.38" x2="211.6" y2="219.38" stroke="#5a3089" stroke-width="0.8" />
<line x1="210" y1="207.9" x2="212.8" y2="207.9" stroke="#5a3089" stroke-width="0.9" />
<text x="215.2" y="210.5" font-size="7.7" text-anchor="start" fill="#5a3089" font-weight="bold"  stroke="#5a3089" stroke-width="0.22">60</text>
<line x1="210" y1="357.08" x2="211.6" y2="357.08" stroke="#5a3089" stroke-width="0.8" />
<line x1="43.5" y1="357.2" x2="43.5" y2="360" stroke="#222" stroke-width="0.9" />
<text x="43.5" y="368.1" font-size="7.5" text-anchor="middle" fill="#000" font-weight="bold"  stroke="#000" stroke-width="0.22">1</text>
<line x1="62" y1="357.2" x2="62" y2="358.8" stroke="#222" stroke-width="0.8" />
<line x1="80.55" y1="357.2" x2="80.55" y2="360" stroke="#222" stroke-width="0.9" />
<text x="80.55" y="368.1" font-size="7.5" text-anchor="middle" fill="#000" font-weight="bold"  stroke="#000" stroke-width="0.22">2</text>
<line x1="99.05" y1="357.2" x2="99.05" y2="358.8" stroke="#222" stroke-width="0.8" />
<line x1="117.6" y1="357.2" x2="117.6" y2="360" stroke="#222" stroke-width="0.9" />
<text x="117.6" y="368.1" font-size="7.5" text-anchor="middle" fill="#000" font-weight="bold"  stroke="#000" stroke-width="0.22">5</text>
<line x1="136.1" y1="357.2" x2="136.1" y2="358.8" stroke="#222" stroke-width="0.8" />
<line x1="154.65" y1="357.2" x2="154.65" y2="360" stroke="#222" stroke-width="0.9" />
<text x="154.65" y="368.1" font-size="7.5" text-anchor="middle" fill="#000" font-weight="bold"  stroke="#000" stroke-width="0.22">8</text>
<line x1="173.15" y1="357.2" x2="173.15" y2="358.8" stroke="#222" stroke-width="0.8" />
<line x1="191.7" y1="357.2" x2="191.7" y2="360" stroke="#222" stroke-width="0.9" />
<text x="191.7" y="368.1" font-size="7.5" text-anchor="middle" fill="#000" font-weight="bold"  stroke="#000" stroke-width="0.22">10</text>
<text x="117" y="378.4" font-size="7.8" text-anchor="middle" fill="#000" font-weight="bold"  stroke="#000" stroke-width="0.22">Current density (mA cm<tspan dy="-2.6" font-size="4.9">-2</tspan><tspan dy="2.6">&#8203;</tspan>)</text>
<text x="8" y="282.4" font-size="7.75" text-anchor="middle" fill="#94307f" font-weight="bold" transform="rotate(-90 8 282.4)"  stroke="#94307f" stroke-width="0.22">NH<tspan dy="1.5" font-size="5">3</tspan><tspan dy="-1.5"> yield rate (&#181;mol h</tspan><tspan dy="-2.5" font-size="4.9">-1</tspan><tspan dy="2.5">&#8203;</tspan> cm<tspan dy="-2.5" font-size="4.9">-2</tspan><tspan dy="2.5">&#8203;</tspan>)</text>
<text x="230.6" y="281.3" font-size="7.8" text-anchor="middle" fill="#5a3089" font-weight="bold" transform="rotate(-90 230.6 281.3)"  stroke="#5a3089" stroke-width="0.22">FE<tspan dy="1.1" font-size="4.2">NH3</tspan><tspan dy="-1.1"> (%)</tspan></text>
<text x="3.6" y="209" font-size="20.5" text-anchor="start" fill="#000" font-weight="normal"  stroke="#000" stroke-width="0.3">d</text>
<path d="M254.6 292 L254.6 291.44 L254.6 290.88 L254.61 290.32 L254.61 289.75 L254.62 289.19 L254.62 288.63 L254.63 288.07 L254.64 287.51 L254.64 286.95 L254.65 286.39 L254.66 285.83 L254.66 285.26 L254.67 284.7 L254.68 284.14 L254.68 283.58 L254.69 283.02 L254.7 282.46 L254.71 281.9 L254.72 281.34 L254.73 280.77 L254.74 280.21 L254.75 279.65 L254.76 279.09 L254.77 278.53 L254.78 277.97 L254.79 277.41 L254.8 276.85 L254.81 276.28 L254.82 275.72 L254.84 275.16 L254.85 274.6 L254.86 274.04 L254.88 273.48 L254.89 272.92 L254.9 272.36 L254.92 271.79 L254.93 271.23 L254.95 270.67 L254.97 270.11 L254.98 269.55 L255 268.99 L255.02 268.43 L255.04 267.87 L255.06 267.31 L255.08 266.74 L255.1 266.18 L255.12 265.62 L255.14 265.06 L255.17 264.5 L255.19 263.94 L255.21 263.38 L255.24 262.82 L255.27 262.26 L255.29 261.69 L255.32 261.13 L255.35 260.57 L255.38 260.01 L255.41 259.45 L255.44 258.89 L255.48 258.33 L255.51 257.77 L255.55 257.21 L255.58 256.65 L255.62 256.09 L255.66 255.53 L255.7 254.97 L255.74 254.41 L255.77 253.84 L255.81 253.26 L255.86 252.68 L255.9 252.1 L255.95 251.52 L256.01 250.96 L256.08 250.4 L256.16 249.85 L256.25 249.32 L256.36 248.8 L256.49 248.29 L256.76 247.69 L257.14 247.18 L257.54 246.98 L257.98 246.98 L258.47 247 L259.01 247.01 L259.59 247.04 L260.19 247.07 L260.8 247.1 L261.42 247.13 L262.02 247.16 L262.6 247.19 L263.16 247.22 L263.72 247.26 L264.28 247.29 L264.84 247.33 L265.4 247.37 L265.96 247.42 L266.52 247.46 L267.08 247.5 L267.64 247.55 L268.2 247.59 L268.76 247.64 L269.32 247.68 L269.88 247.72 L270.44 247.76 L271 247.8 L271.56 247.83 L272.12 247.87 L272.68 247.9 L273.24 247.93 L273.8 247.96 L274.36 248 L274.92 248.03 L275.48 248.06 L276.04 248.09 L276.6 248.12 L277.16 248.15 L277.72 248.18 L278.28 248.21 L278.84 248.24 L279.4 248.27 L279.96 248.3 L280.52 248.32 L281.08 248.35 L281.65 248.38 L282.21 248.4 L282.77 248.43 L283.33 248.46 L283.89 248.48 L284.45 248.51 L285.01 248.53 L285.57 248.55 L286.13 248.58 L286.69 248.6 L287.25 248.62 L287.82 248.64 L288.38 248.66 L288.94 248.68 L289.5 248.7 L290.06 248.72" fill="none" stroke="#505050" stroke-width="1.3" stroke-linejoin="round" stroke-linecap="round" />
<path d="M254.6 281.12 L254.6 281.58 L254.6 282.03 L254.6 282.49 L254.6 282.94 L254.6 283.4 L254.61 283.85 L254.61 284.31 L254.61 284.76 L254.62 285.21 L254.62 285.67 L254.63 286.12 L254.63 286.58 L254.64 287.03 L254.65 287.48 L254.65 287.94 L254.66 288.39 L254.67 288.84 L254.68 289.3 L254.69 289.75 L254.7 290.2 L254.71 290.66 L254.73 291.11 L254.76 291.57 L254.79 292.02 L254.82 292.47 L254.85 292.93 L254.89 293.38 L254.93 293.83 L254.97 294.28 L255.02 294.73 L255.08 295.18 L255.14 295.63 L255.21 296.08 L255.29 296.53 L255.37 296.98 L255.46 297.43 L255.55 297.88 L255.65 298.32 L255.75 298.77 L255.86 299.21 L255.97 299.65 L256.08 300.09 L256.19 300.52 L256.31 300.95 L256.44 301.38 L256.59 301.81 L256.74 302.24 L256.9 302.66 L257.07 303.08 L257.25 303.5 L257.43 303.92 L257.62 304.33 L257.81 304.75 L258.01 305.16 L258.21 305.58 L258.4 305.99 L258.6 306.4 L258.79 306.81 L258.98 307.23 L259.17 307.64 L259.36 308.05 L259.55 308.47 L259.74 308.89 L259.93 309.3 L260.13 309.72 L260.33 310.13 L260.53 310.54 L260.73 310.94 L260.95 311.34 L261.17 311.74 L261.39 312.13 L261.63 312.51 L261.87 312.88 L262.12 313.27 L262.38 313.67 L262.65 314.07 L262.92 314.46 L263.21 314.85 L263.51 315.21 L263.82 315.55 L264.14 315.86 L264.47 316.13 L264.82 316.35 L265.18 316.55 L265.59 316.75 L266.01 316.94 L266.45 317.11 L266.91 317.26 L267.37 317.37 L267.82 317.43 L268.26 317.45 L268.7 317.45 L269.14 317.45 L269.58 317.45 L270.02 317.45 L270.47 317.45 L270.91 317.45 L271.35 317.45 L271.79 317.45 L272.24 317.45 L272.68 317.45 L273.13 317.45 L273.57 317.45 L274.02 317.45 L274.46 317.45 L274.91 317.45 L275.36 317.45 L275.8 317.45 L276.25 317.45 L276.7 317.45 L277.15 317.45 L277.6 317.45 L278.05 317.45 L278.5 317.45 L278.96 317.45 L279.41 317.45 L279.86 317.45 L280.32 317.45 L280.77 317.45 L281.23 317.45 L281.69 317.45 L282.14 317.45 L282.6 317.45 L283.06 317.45 L283.52 317.45 L283.98 317.45 L284.45 317.45 L284.91 317.45 L285.37 317.45 L285.84 317.45 L286.3 317.45 L286.77 317.45 L287.24 317.45 L287.7 317.45 L288.17 317.45 L288.64 317.45 L289.11 317.45 L289.59 317.45 L290.06 317.45" fill="none" stroke="#505050" stroke-width="1.3" stroke-linejoin="round" stroke-linecap="round" />
<path d="M254.6 292 L254.6 291.36 L254.6 290.72 L254.6 290.09 L254.61 289.45 L254.61 288.81 L254.62 288.18 L254.62 287.54 L254.63 286.9 L254.64 286.26 L254.65 285.63 L254.66 284.99 L254.67 284.36 L254.68 283.72 L254.69 283.08 L254.71 282.45 L254.74 281.81 L254.77 281.17 L254.81 280.54 L254.85 279.9 L254.9 279.27 L254.95 278.63 L255.01 278 L255.06 277.36 L255.12 276.73 L255.19 276.09 L255.25 275.46 L255.31 274.82 L255.37 274.19 L255.43 273.56 L255.49 272.92 L255.56 272.28 L255.62 271.65 L255.69 271.01 L255.76 270.37 L255.84 269.73 L255.92 269.1 L256 268.46 L256.08 267.82 L256.17 267.19 L256.26 266.56 L256.36 265.93 L256.45 265.3 L256.56 264.67 L256.67 264.04 L256.78 263.42 L256.9 262.8 L257.02 262.19 L257.15 261.57 L257.29 260.96 L257.44 260.33 L257.61 259.69 L257.8 259.05 L258 258.41 L258.21 257.78 L258.44 257.15 L258.69 256.54 L258.95 255.95 L259.22 255.38 L259.51 254.84 L259.81 254.34 L260.13 253.87 L260.51 253.42 L260.94 252.99 L261.43 252.58 L261.96 252.18 L262.52 251.8 L263.09 251.45 L263.67 251.11 L264.23 250.8 L264.78 250.51 L265.35 250.21 L265.92 249.92 L266.51 249.64 L267.1 249.37 L267.7 249.13 L268.31 248.91 L268.92 248.72 L269.53 248.58 L270.14 248.47 L270.76 248.38 L271.39 248.29 L272.01 248.21 L272.65 248.14 L273.29 248.07 L273.93 248.01 L274.57 247.95 L275.21 247.91 L275.85 247.88 L276.49 247.86 L277.13 247.85 L277.76 247.85 L278.4 247.85 L279.04 247.85 L279.67 247.85 L280.31 247.85 L280.95 247.85 L281.58 247.85 L282.22 247.85 L282.86 247.85 L283.5 247.85 L284.13 247.85 L284.77 247.85 L285.41 247.85 L286.04 247.85 L286.68 247.85 L287.32 247.85 L287.96 247.85 L288.59 247.85 L289.23 247.85 L289.87 247.85 L290.51 247.85 L291.14 247.85 L291.78 247.84 L292.42 247.84 L293.05 247.84 L293.69 247.84 L294.33 247.83 L294.96 247.83 L295.6 247.82 L296.24 247.82 L296.88 247.81 L297.51 247.8 L298.15 247.8 L298.79 247.79 L299.42 247.78 L300.06 247.77 L300.7 247.76 L301.33 247.75 L301.97 247.74 L302.61 247.73 L303.24 247.72 L303.88 247.71 L304.52 247.7 L305.16 247.69 L305.79 247.68 L306.43 247.67 L307.07 247.65 L307.7 247.64 L308.34 247.63" fill="none" stroke="#cf6a32" stroke-width="1.3" stroke-linejoin="round" stroke-linecap="round" />
<path d="M254.6 281.12 L254.6 281.76 L254.6 282.39 L254.6 283.02 L254.61 283.65 L254.61 284.29 L254.62 284.92 L254.62 285.55 L254.63 286.18 L254.64 286.81 L254.65 287.45 L254.66 288.08 L254.67 288.71 L254.68 289.34 L254.69 289.97 L254.7 290.61 L254.72 291.24 L254.74 291.87 L254.76 292.51 L254.78 293.14 L254.81 293.78 L254.84 294.41 L254.88 295.04 L254.91 295.67 L254.96 296.29 L255.02 296.91 L255.12 297.53 L255.24 298.15 L255.39 298.77 L255.55 299.38 L255.73 300 L255.91 300.61 L256.08 301.22 L256.25 301.83 L256.42 302.44 L256.6 303.04 L256.78 303.65 L256.97 304.25 L257.17 304.85 L257.37 305.45 L257.57 306.05 L257.77 306.65 L257.97 307.25 L258.17 307.85 L258.37 308.45 L258.56 309.06 L258.74 309.66 L258.92 310.27 L259.09 310.88 L259.24 311.49 L259.39 312.12 L259.53 312.75 L259.66 313.38 L259.79 314.01 L259.91 314.65 L260.05 315.28 L260.18 315.9 L260.33 316.52 L260.49 317.13 L260.66 317.72 L260.85 318.31 L261.05 318.88 L261.29 319.44 L261.57 320.03 L261.9 320.63 L262.28 321.21 L262.69 321.74 L263.12 322.16 L263.58 322.46 L264.08 322.69 L264.65 322.9 L265.27 323.09 L265.91 323.25 L266.58 323.38 L267.24 323.48 L267.89 323.53 L268.51 323.54 L269.13 323.55 L269.75 323.56 L270.38 323.57 L271 323.58 L271.62 323.58 L272.24 323.59 L272.87 323.6 L273.49 323.61 L274.11 323.61 L274.74 323.62 L275.36 323.63 L275.98 323.63 L276.61 323.64 L277.23 323.64 L277.86 323.65 L278.48 323.66 L279.11 323.66 L279.73 323.67 L280.36 323.67 L280.99 323.68 L281.61 323.68 L282.24 323.68 L282.87 323.69 L283.5 323.69 L284.13 323.7 L284.75 323.7 L285.38 323.7 L286.01 323.71 L286.64 323.71 L287.27 323.71 L287.9 323.72 L288.54 323.72 L289.17 323.72 L289.8 323.72 L290.43 323.73 L291.06 323.73 L291.7 323.73 L292.33 323.73 L292.97 323.74 L293.6 323.74 L294.23 323.74 L294.87 323.74 L295.51 323.74 L296.14 323.74 L296.78 323.75 L297.42 323.75 L298.06 323.75 L298.69 323.75 L299.33 323.75 L299.97 323.75 L300.61 323.75 L301.25 323.75 L301.9 323.75 L302.54 323.75 L303.18 323.75 L303.82 323.75 L304.47 323.75 L305.11 323.75 L305.76 323.75 L306.4 323.75 L307.05 323.75 L307.69 323.75 L308.34 323.76" fill="none" stroke="#cf6a32" stroke-width="1.3" stroke-linejoin="round" stroke-linecap="round" />
<path d="M254.6 292 L254.6 291.23 L254.6 290.45 L254.6 289.68 L254.61 288.9 L254.62 288.13 L254.63 287.36 L254.63 286.58 L254.65 285.81 L254.66 285.04 L254.67 284.27 L254.68 283.5 L254.7 282.72 L254.74 281.95 L254.79 281.18 L254.84 280.41 L254.91 279.64 L254.99 278.87 L255.07 278.1 L255.15 277.33 L255.23 276.56 L255.32 275.79 L255.4 275.02 L255.48 274.25 L255.57 273.48 L255.66 272.71 L255.75 271.93 L255.85 271.16 L255.95 270.38 L256.05 269.61 L256.16 268.84 L256.27 268.07 L256.39 267.3 L256.52 266.53 L256.65 265.77 L256.78 265.01 L256.93 264.26 L257.08 263.5 L257.24 262.76 L257.41 262.02 L257.59 261.28 L257.79 260.54 L258.02 259.78 L258.27 259.03 L258.55 258.28 L258.85 257.53 L259.18 256.8 L259.52 256.1 L259.88 255.41 L260.27 254.76 L260.66 254.15 L261.09 253.58 L261.59 253.03 L262.15 252.51 L262.76 252.01 L263.39 251.53 L264.05 251.07 L264.71 250.61 L265.36 250.17 L265.99 249.73 L266.63 249.28 L267.27 248.84 L267.92 248.4 L268.58 247.97 L269.25 247.57 L269.93 247.18 L270.61 246.83 L271.3 246.52 L272 246.24 L272.72 245.97 L273.45 245.7 L274.19 245.44 L274.93 245.19 L275.69 244.96 L276.45 244.76 L277.21 244.6 L277.97 244.47 L278.73 244.39 L279.49 244.35 L280.26 244.32 L281.02 244.3 L281.79 244.27 L282.56 244.25 L283.34 244.23 L284.11 244.21 L284.89 244.2 L285.67 244.19 L286.44 244.17 L287.22 244.16 L288 244.16 L288.77 244.15 L289.55 244.15 L290.32 244.15 L291.09 244.16 L291.87 244.17 L292.64 244.18 L293.41 244.2 L294.18 244.23 L294.96 244.26 L295.73 244.29 L296.5 244.33 L297.27 244.37 L298.05 244.41 L298.82 244.45 L299.59 244.5 L300.36 244.55 L301.14 244.6 L301.91 244.64 L302.68 244.69 L303.45 244.74 L304.22 244.79 L305 244.84 L305.77 244.88 L306.54 244.93 L307.31 244.97 L308.08 245.01 L308.86 245.04 L309.63 245.08 L310.4 245.12 L311.17 245.15 L311.95 245.19 L312.72 245.23 L313.49 245.27 L314.26 245.3 L315.04 245.34 L315.81 245.38 L316.58 245.41 L317.35 245.45 L318.12 245.49 L318.9 245.52 L319.67 245.56 L320.44 245.6 L321.21 245.63 L321.99 245.67 L322.76 245.71 L323.53 245.74 L324.3 245.78 L325.08 245.82 L325.85 245.85 L326.62 245.89" fill="none" stroke="#d3d93a" stroke-width="1.3" stroke-linejoin="round" stroke-linecap="round" />
<path d="M254.6 281.12 L254.6 281.89 L254.6 282.66 L254.6 283.43 L254.61 284.2 L254.62 284.97 L254.63 285.74 L254.64 286.5 L254.65 287.27 L254.66 288.04 L254.67 288.81 L254.68 289.58 L254.7 290.35 L254.72 291.12 L254.75 291.89 L254.79 292.67 L254.83 293.43 L254.88 294.2 L254.94 294.96 L255.01 295.7 L255.16 296.44 L255.36 297.18 L255.6 297.91 L255.88 298.63 L256.18 299.36 L256.48 300.08 L256.78 300.8 L257.06 301.52 L257.32 302.25 L257.58 302.97 L257.85 303.69 L258.12 304.41 L258.4 305.12 L258.67 305.84 L258.95 306.56 L259.23 307.28 L259.5 307.99 L259.78 308.71 L260.05 309.43 L260.31 310.15 L260.57 310.88 L260.82 311.6 L261.06 312.33 L261.29 313.07 L261.5 313.82 L261.71 314.56 L261.92 315.31 L262.13 316.06 L262.34 316.8 L262.56 317.54 L262.79 318.27 L263.04 318.99 L263.31 319.7 L263.6 320.39 L263.92 321.1 L264.26 321.84 L264.63 322.58 L265.03 323.3 L265.46 323.97 L265.92 324.57 L266.41 325.07 L266.93 325.47 L267.55 325.86 L268.24 326.23 L268.98 326.57 L269.75 326.86 L270.54 327.08 L271.31 327.21 L272.05 327.24 L272.79 327.25 L273.52 327.25 L274.26 327.26 L275 327.27 L275.74 327.28 L276.48 327.28 L277.22 327.29 L277.96 327.3 L278.7 327.3 L279.44 327.31 L280.18 327.32 L280.92 327.32 L281.67 327.33 L282.41 327.33 L283.16 327.34 L283.9 327.34 L284.65 327.35 L285.4 327.35 L286.15 327.36 L286.9 327.36 L287.65 327.37 L288.4 327.37 L289.15 327.38 L289.9 327.38 L290.66 327.38 L291.41 327.39 L292.17 327.39 L292.93 327.4 L293.68 327.4 L294.44 327.4 L295.2 327.41 L295.96 327.41 L296.73 327.41 L297.49 327.41 L298.25 327.42 L299.02 327.42 L299.78 327.42 L300.55 327.42 L301.32 327.43 L302.09 327.43 L302.86 327.43 L303.63 327.43 L304.41 327.43 L305.18 327.43 L305.96 327.44 L306.74 327.44 L307.51 327.44 L308.29 327.44 L309.08 327.44 L309.86 327.44 L310.64 327.44 L311.43 327.44 L312.21 327.45 L313 327.45 L313.79 327.45 L314.58 327.45 L315.37 327.45 L316.17 327.45 L316.96 327.45 L317.76 327.45 L318.56 327.45 L319.35 327.45 L320.16 327.45 L320.96 327.45 L321.76 327.45 L322.57 327.45 L323.38 327.45 L324.18 327.45 L324.99 327.45 L325.81 327.45 L326.62 327.45" fill="none" stroke="#d3d93a" stroke-width="1.3" stroke-linejoin="round" stroke-linecap="round" />
<path d="M254.6 292 L254.6 291.1 L254.6 290.2 L254.61 289.29 L254.61 288.39 L254.62 287.49 L254.63 286.59 L254.65 285.69 L254.66 284.79 L254.68 283.9 L254.7 283 L254.74 282.1 L254.81 281.2 L254.9 280.3 L255 279.41 L255.11 278.51 L255.23 277.62 L255.33 276.72 L255.44 275.83 L255.54 274.93 L255.65 274.03 L255.76 273.13 L255.87 272.23 L255.99 271.32 L256.11 270.42 L256.24 269.52 L256.37 268.63 L256.51 267.73 L256.66 266.85 L256.82 265.96 L256.99 265.08 L257.16 264.21 L257.35 263.35 L257.56 262.49 L257.78 261.63 L258.04 260.74 L258.33 259.85 L258.65 258.96 L258.99 258.07 L259.36 257.21 L259.76 256.36 L260.19 255.56 L260.64 254.79 L261.11 254.08 L261.61 253.42 L262.18 252.83 L262.87 252.29 L263.65 251.79 L264.46 251.31 L265.27 250.85 L266.04 250.38 L266.81 249.91 L267.59 249.44 L268.37 248.97 L269.16 248.52 L269.95 248.08 L270.75 247.65 L271.56 247.26 L272.37 246.89 L273.19 246.56 L274.03 246.25 L274.88 245.94 L275.73 245.64 L276.6 245.36 L277.47 245.09 L278.35 244.86 L279.23 244.65 L280.11 244.48 L280.99 244.36 L281.88 244.26 L282.77 244.16 L283.66 244.07 L284.56 243.99 L285.46 243.91 L286.36 243.85 L287.27 243.79 L288.17 243.75 L289.07 243.73 L289.97 243.72 L290.87 243.72 L291.77 243.72 L292.67 243.72 L293.57 243.72 L294.47 243.72 L295.37 243.72 L296.27 243.72 L297.17 243.72 L298.07 243.72 L298.97 243.72 L299.87 243.72 L300.77 243.72 L301.67 243.72 L302.57 243.72 L303.48 243.72 L304.38 243.72 L305.28 243.72 L306.18 243.72 L307.08 243.72 L307.98 243.72 L308.88 243.72 L309.78 243.72 L310.68 243.72 L311.58 243.72 L312.48 243.72 L313.38 243.72 L314.29 243.72 L315.19 243.72 L316.09 243.72 L316.99 243.72 L317.89 243.72 L318.79 243.72 L319.69 243.72 L320.59 243.72 L321.49 243.72 L322.39 243.72 L323.29 243.73 L324.19 243.73 L325.09 243.74 L325.99 243.74 L326.89 243.75 L327.79 243.76 L328.69 243.76 L329.59 243.77 L330.49 243.78 L331.39 243.78 L332.29 243.79 L333.19 243.8 L334.1 243.81 L335 243.82 L335.9 243.83 L336.8 243.84 L337.7 243.85 L338.6 243.86 L339.5 243.87 L340.4 243.88 L341.3 243.89 L342.2 243.9 L343.1 243.91 L344 243.92 L344.9 243.93" fill="none" stroke="#2ba27b" stroke-width="1.3" stroke-linejoin="round" stroke-linecap="round" />
<path d="M254.6 281.12 L254.6 282.03 L254.6 282.94 L254.61 283.84 L254.61 284.75 L254.62 285.65 L254.63 286.55 L254.65 287.46 L254.66 288.36 L254.68 289.27 L254.7 290.17 L254.73 291.08 L254.78 291.99 L254.84 292.9 L254.92 293.79 L255.03 294.66 L255.23 295.52 L255.5 296.37 L255.85 297.21 L256.23 298.04 L256.65 298.87 L257.07 299.69 L257.49 300.52 L257.88 301.35 L258.23 302.18 L258.59 303.02 L258.94 303.85 L259.3 304.68 L259.66 305.51 L260.02 306.34 L260.37 307.17 L260.72 308.01 L261.07 308.84 L261.41 309.68 L261.74 310.52 L262.06 311.37 L262.36 312.22 L262.66 313.08 L262.95 313.93 L263.24 314.79 L263.53 315.65 L263.82 316.51 L264.13 317.36 L264.44 318.2 L264.77 319.04 L265.12 319.89 L265.45 320.76 L265.79 321.64 L266.14 322.52 L266.5 323.39 L266.89 324.23 L267.3 325.04 L267.74 325.79 L268.23 326.48 L268.77 327.1 L269.41 327.73 L270.15 328.33 L270.95 328.86 L271.78 329.3 L272.6 329.6 L273.44 329.8 L274.3 329.98 L275.2 330.15 L276.11 330.28 L277.03 330.39 L277.96 330.46 L278.87 330.5 L279.77 330.5 L280.67 330.5 L281.57 330.5 L282.47 330.5 L283.37 330.5 L284.27 330.5 L285.17 330.5 L286.07 330.5 L286.97 330.5 L287.87 330.5 L288.77 330.5 L289.67 330.5 L290.57 330.5 L291.47 330.5 L292.37 330.5 L293.27 330.5 L294.17 330.5 L295.07 330.5 L295.97 330.5 L296.87 330.5 L297.78 330.5 L298.68 330.5 L299.58 330.5 L300.48 330.5 L301.38 330.5 L302.28 330.5 L303.19 330.5 L304.09 330.5 L304.99 330.5 L305.9 330.5 L306.8 330.5 L307.7 330.5 L308.6 330.5 L309.51 330.5 L310.41 330.5 L311.32 330.5 L312.22 330.5 L313.12 330.5 L314.03 330.5 L314.93 330.5 L315.84 330.5 L316.74 330.5 L317.65 330.5 L318.55 330.5 L319.46 330.5 L320.36 330.5 L321.27 330.5 L322.18 330.5 L323.08 330.5 L323.99 330.5 L324.89 330.5 L325.8 330.5 L326.71 330.5 L327.62 330.5 L328.52 330.5 L329.43 330.5 L330.34 330.5 L331.25 330.5 L332.16 330.5 L333.06 330.5 L333.97 330.5 L334.88 330.5 L335.79 330.5 L336.7 330.5 L337.61 330.5 L338.52 330.5 L339.43 330.5 L340.34 330.5 L341.25 330.5 L342.16 330.5 L343.08 330.5 L343.99 330.5 L344.9 330.5" fill="none" stroke="#2ba27b" stroke-width="1.3" stroke-linejoin="round" stroke-linecap="round" />
<path d="M254.6 292 L254.6 290.66 L254.61 289.32 L254.62 287.98 L254.63 286.65 L254.65 285.31 L254.68 283.97 L254.71 282.64 L254.8 281.31 L254.94 279.98 L255.1 278.65 L255.26 277.32 L255.42 275.99 L255.57 274.66 L255.72 273.32 L255.89 271.99 L256.06 270.66 L256.23 269.33 L256.43 268.01 L256.63 266.69 L256.85 265.37 L257.09 264.06 L257.36 262.76 L257.68 261.47 L258.05 260.18 L258.44 258.89 L258.85 257.62 L259.27 256.34 L259.69 255.07 L260.11 253.78 L260.55 252.5 L261.02 251.23 L261.52 249.99 L262.07 248.79 L262.7 247.65 L263.44 246.5 L264.28 245.4 L265.21 244.45 L266.2 243.69 L267.31 243.03 L268.51 242.45 L269.77 241.91 L271.06 241.39 L272.33 240.86 L273.55 240.31 L274.76 239.71 L275.96 239.11 L277.17 238.51 L278.39 237.94 L279.62 237.43 L280.86 236.99 L282.14 236.59 L283.43 236.19 L284.75 235.87 L286.06 235.69 L287.38 235.63 L288.71 235.59 L290.04 235.56 L291.38 235.53 L292.72 235.5 L294.06 235.48 L295.41 235.47 L296.75 235.46 L298.09 235.45 L299.43 235.45 L300.77 235.45 L302.1 235.45 L303.44 235.45 L304.78 235.45 L306.12 235.45 L307.45 235.45 L308.79 235.45 L310.13 235.45 L311.47 235.45 L312.8 235.45 L314.14 235.45 L315.48 235.45 L316.82 235.45 L318.15 235.45 L319.49 235.45 L320.83 235.45 L322.17 235.45 L323.5 235.45 L324.84 235.45 L326.18 235.45 L327.52 235.45 L328.85 235.45 L330.19 235.45 L331.53 235.45 L332.87 235.45 L334.2 235.45 L335.54 235.45 L336.88 235.45 L338.22 235.45 L339.55 235.45 L340.89 235.45 L342.23 235.45 L343.57 235.45 L344.9 235.45 L346.24 235.45 L347.58 235.45 L348.92 235.45 L350.25 235.45 L351.59 235.45 L352.93 235.45 L354.27 235.45 L355.6 235.45 L356.94 235.45 L358.28 235.45 L359.62 235.45 L360.95 235.45 L362.29 235.45 L363.63 235.45 L364.97 235.45 L366.3 235.45 L367.64 235.45 L368.98 235.45 L370.32 235.45 L371.65 235.45 L372.99 235.45 L374.33 235.45 L375.67 235.45 L377 235.45 L378.34 235.45 L379.68 235.45 L381.02 235.45 L382.35 235.45 L383.69 235.45 L385.03 235.45 L386.37 235.45 L387.7 235.45 L389.04 235.45 L390.38 235.45 L391.72 235.45 L393.05 235.45 L394.39 235.45 L395.73 235.45 L397.07 235.45 L398.4 235.45 L399.74 235.45" fill="none" stroke="#3a7fc6" stroke-width="1.3" stroke-linejoin="round" stroke-linecap="round" />
<path d="M254.6 281.12 L254.6 282.45 L254.6 283.77 L254.61 285.09 L254.63 286.41 L254.64 287.73 L254.66 289.05 L254.68 290.37 L254.7 291.69 L254.74 293.02 L254.79 294.35 L254.85 295.67 L254.93 296.98 L255.05 298.28 L255.3 299.57 L255.65 300.85 L256.07 302.12 L256.53 303.38 L257 304.62 L257.47 305.84 L258 307.03 L258.59 308.21 L259.22 309.38 L259.88 310.54 L260.55 311.69 L261.21 312.84 L261.86 313.99 L262.52 315.14 L263.2 316.27 L263.89 317.4 L264.57 318.53 L265.23 319.68 L265.86 320.84 L266.45 322.02 L267.02 323.23 L267.57 324.44 L268.13 325.65 L268.72 326.83 L269.34 327.98 L270.03 329.09 L270.77 330.21 L271.58 331.33 L272.46 332.35 L273.41 333.19 L274.47 333.85 L275.66 334.48 L276.94 335.01 L278.24 335.38 L279.52 335.53 L280.81 335.62 L282.11 335.7 L283.43 335.76 L284.76 335.82 L286.1 335.86 L287.44 335.89 L288.77 335.92 L290.1 335.94 L291.42 335.95 L292.74 335.97 L294.06 335.99 L295.38 336 L296.7 336.02 L298.02 336.03 L299.34 336.05 L300.66 336.06 L301.98 336.08 L303.3 336.09 L304.62 336.11 L305.94 336.12 L307.26 336.14 L308.58 336.15 L309.9 336.16 L311.22 336.18 L312.54 336.19 L313.86 336.2 L315.19 336.22 L316.51 336.23 L317.83 336.24 L319.15 336.25 L320.47 336.26 L321.79 336.27 L323.11 336.29 L324.43 336.3 L325.75 336.31 L327.07 336.32 L328.39 336.33 L329.71 336.34 L331.03 336.35 L332.35 336.36 L333.67 336.37 L335 336.38 L336.32 336.39 L337.64 336.39 L338.96 336.4 L340.28 336.41 L341.6 336.42 L342.92 336.43 L344.24 336.44 L345.56 336.44 L346.88 336.45 L348.2 336.46 L349.53 336.46 L350.85 336.47 L352.17 336.48 L353.49 336.48 L354.81 336.49 L356.13 336.5 L357.45 336.5 L358.77 336.51 L360.09 336.51 L361.42 336.52 L362.74 336.52 L364.06 336.53 L365.38 336.53 L366.7 336.54 L368.02 336.54 L369.34 336.54 L370.66 336.55 L371.99 336.55 L373.31 336.55 L374.63 336.56 L375.95 336.56 L377.27 336.56 L378.59 336.57 L379.91 336.57 L381.24 336.57 L382.56 336.57 L383.88 336.58 L385.2 336.58 L386.52 336.58 L387.84 336.58 L389.17 336.58 L390.49 336.58 L391.81 336.58 L393.13 336.59 L394.45 336.59 L395.77 336.59 L397.1 336.59 L398.42 336.59 L399.74 336.59" fill="none" stroke="#3a7fc6" stroke-width="1.3" stroke-linejoin="round" stroke-linecap="round" />
<path d="M254.78 292 L254.78 290.34 L254.79 288.68 L254.81 287.02 L254.83 285.36 L254.86 283.7 L254.92 282.05 L255.07 280.39 L255.26 278.74 L255.47 277.09 L255.7 275.45 L255.97 273.82 L256.28 272.18 L256.62 270.56 L256.97 268.93 L257.33 267.32 L257.73 265.71 L258.16 264.11 L258.61 262.51 L259.07 260.91 L259.52 259.31 L259.95 257.71 L260.35 256.1 L260.72 254.48 L261.08 252.85 L261.43 251.23 L261.8 249.61 L262.19 248 L262.62 246.4 L263.08 244.8 L263.56 243.18 L264.08 241.57 L264.67 240.01 L265.33 238.53 L266.11 237.12 L267.07 235.71 L268.18 234.38 L269.38 233.22 L270.63 232.29 L271.99 231.5 L273.47 230.81 L275.03 230.18 L276.64 229.59 L278.26 229.02 L279.87 228.45 L281.43 227.86 L282.99 227.29 L284.55 226.74 L286.12 226.19 L287.68 225.63 L289.24 225.05 L290.77 224.38 L292.3 223.68 L293.83 223.01 L295.38 222.45 L296.97 222.08 L298.59 221.8 L300.25 221.57 L301.91 221.39 L303.56 221.26 L305.21 221.15 L306.87 221.05 L308.53 220.97 L310.19 220.89 L311.85 220.82 L313.51 220.76 L315.17 220.71 L316.83 220.67 L318.48 220.64 L320.14 220.61 L321.8 220.59 L323.46 220.56 L325.12 220.54 L326.78 220.52 L328.44 220.49 L330.1 220.47 L331.76 220.45 L333.41 220.44 L335.07 220.42 L336.73 220.4 L338.39 220.39 L340.05 220.37 L341.71 220.36 L343.37 220.34 L345.03 220.33 L346.69 220.32 L348.35 220.31 L350.01 220.3 L351.67 220.29 L353.33 220.28 L354.99 220.27 L356.65 220.26 L358.31 220.25 L359.97 220.24 L361.63 220.23 L363.29 220.22 L364.95 220.22 L366.61 220.21 L368.26 220.2 L369.92 220.19 L371.58 220.19 L373.24 220.18 L374.9 220.17 L376.56 220.16 L378.22 220.16 L379.88 220.15 L381.54 220.14 L383.2 220.14 L384.86 220.13 L386.52 220.12 L388.18 220.11 L389.84 220.11 L391.5 220.1 L393.16 220.1 L394.81 220.09 L396.47 220.08 L398.13 220.08 L399.79 220.07 L401.45 220.07 L403.11 220.06 L404.77 220.06 L406.43 220.05 L408.09 220.05 L409.75 220.04 L411.41 220.04 L413.07 220.04 L414.73 220.03 L416.39 220.03 L418.05 220.03 L419.71 220.02 L421.37 220.02 L423.02 220.02 L424.68 220.01 L426.34 220.01 L428 220.01 L429.66 220.01 L431.32 220.01 L432.98 220.01 L434.64 220.01 L436.3 220.01" fill="none" stroke="#a8318c" stroke-width="1.3" stroke-linejoin="round" stroke-linecap="round" />
<path d="M254.78 281.12 L254.78 282.7 L254.79 284.28 L254.81 285.85 L254.83 287.42 L254.86 289 L254.89 290.57 L254.98 292.15 L255.1 293.72 L255.29 295.27 L255.59 296.82 L255.99 298.37 L256.47 299.89 L256.99 301.36 L257.58 302.79 L258.33 304.19 L259.19 305.55 L260.12 306.82 L261.14 307.98 L262.32 309.03 L263.54 310.05 L264.68 311.14 L265.75 312.3 L266.79 313.48 L267.8 314.71 L268.75 315.96 L269.64 317.24 L270.48 318.57 L271.28 319.93 L272.05 321.31 L272.82 322.68 L273.56 324.08 L274.26 325.5 L274.95 326.93 L275.65 328.35 L276.39 329.73 L277.2 331.06 L278.08 332.38 L279.03 333.74 L280.05 335.01 L281.15 336.09 L282.35 336.9 L283.73 337.63 L285.24 338.26 L286.8 338.74 L288.35 338.99 L289.87 339.12 L291.41 339.24 L292.96 339.35 L294.53 339.45 L296.1 339.53 L297.69 339.61 L299.27 339.67 L300.87 339.72 L302.46 339.77 L304.05 339.8 L305.64 339.83 L307.22 339.84 L308.79 339.85 L310.37 339.86 L311.94 339.86 L313.51 339.87 L315.09 339.88 L316.66 339.88 L318.23 339.89 L319.81 339.9 L321.38 339.9 L322.95 339.91 L324.53 339.91 L326.1 339.92 L327.67 339.92 L329.25 339.93 L330.82 339.93 L332.39 339.94 L333.97 339.94 L335.54 339.95 L337.12 339.95 L338.69 339.96 L340.26 339.96 L341.84 339.96 L343.41 339.97 L344.98 339.97 L346.56 339.98 L348.13 339.98 L349.7 339.98 L351.28 339.99 L352.85 339.99 L354.43 339.99 L356 340 L357.57 340 L359.15 340 L360.72 340.01 L362.29 340.01 L363.87 340.01 L365.44 340.02 L367.02 340.02 L368.59 340.02 L370.16 340.02 L371.74 340.03 L373.31 340.03 L374.89 340.03 L376.46 340.03 L378.03 340.03 L379.61 340.04 L381.18 340.04 L382.76 340.04 L384.33 340.04 L385.91 340.04 L387.48 340.05 L389.05 340.05 L390.63 340.05 L392.2 340.05 L393.78 340.05 L395.35 340.05 L396.93 340.05 L398.5 340.05 L400.08 340.06 L401.65 340.06 L403.22 340.06 L404.8 340.06 L406.37 340.06 L407.95 340.06 L409.52 340.06 L411.1 340.06 L412.67 340.06 L414.25 340.06 L415.82 340.06 L417.4 340.06 L418.97 340.07 L420.55 340.07 L422.12 340.07 L423.7 340.07 L425.27 340.07 L426.85 340.07 L428.42 340.07 L430 340.07 L431.57 340.07 L433.15 340.07 L434.72 340.07 L436.3 340.07" fill="none" stroke="#a8318c" stroke-width="1.3" stroke-linejoin="round" stroke-linecap="round" />
<line x1="253.5" y1="199.5" x2="455.1" y2="199.5" stroke="#000" stroke-width="1.0" />
<line x1="454.6" y1="199.5" x2="454.6" y2="362" stroke="#000" stroke-width="1.0" />
<line x1="253.5" y1="362" x2="455" y2="362" stroke="#000" stroke-width="1.3" />
<line x1="253.5" y1="199.1" x2="253.5" y2="362.6" stroke="#000" stroke-width="1.3" />
<line x1="250.7" y1="361.6" x2="253.5" y2="361.6" stroke="#000" stroke-width="0.9" />
<text x="248.9" y="364.3" font-size="8" text-anchor="end" fill="#000" font-weight="bold"  stroke="#000" stroke-width="0.22">-2</text>
<line x1="251.9" y1="350.73" x2="253.5" y2="350.73" stroke="#000" stroke-width="0.8" />
<line x1="250.7" y1="339.85" x2="253.5" y2="339.85" stroke="#000" stroke-width="0.9" />
<text x="248.9" y="342.55" font-size="8" text-anchor="end" fill="#000" font-weight="bold"  stroke="#000" stroke-width="0.22">-1</text>
<line x1="251.9" y1="328.98" x2="253.5" y2="328.98" stroke="#000" stroke-width="0.8" />
<line x1="250.7" y1="318.1" x2="253.5" y2="318.1" stroke="#000" stroke-width="0.9" />
<text x="248.9" y="320.8" font-size="8" text-anchor="end" fill="#000" font-weight="bold"  stroke="#000" stroke-width="0.22">0</text>
<line x1="251.9" y1="307.23" x2="253.5" y2="307.23" stroke="#000" stroke-width="0.8" />
<line x1="250.7" y1="296.35" x2="253.5" y2="296.35" stroke="#000" stroke-width="0.9" />
<text x="248.9" y="299.05" font-size="8" text-anchor="end" fill="#000" font-weight="bold"  stroke="#000" stroke-width="0.22">1</text>
<line x1="251.9" y1="285.48" x2="253.5" y2="285.48" stroke="#000" stroke-width="0.8" />
<line x1="250.7" y1="274.6" x2="253.5" y2="274.6" stroke="#000" stroke-width="0.9" />
<text x="248.9" y="277.3" font-size="8" text-anchor="end" fill="#000" font-weight="bold"  stroke="#000" stroke-width="0.22">2</text>
<line x1="251.9" y1="263.73" x2="253.5" y2="263.73" stroke="#000" stroke-width="0.8" />
<line x1="250.7" y1="252.85" x2="253.5" y2="252.85" stroke="#000" stroke-width="0.9" />
<text x="248.9" y="255.55" font-size="8" text-anchor="end" fill="#000" font-weight="bold"  stroke="#000" stroke-width="0.22">3</text>
<line x1="251.9" y1="241.98" x2="253.5" y2="241.98" stroke="#000" stroke-width="0.8" />
<line x1="250.7" y1="231.1" x2="253.5" y2="231.1" stroke="#000" stroke-width="0.9" />
<text x="248.9" y="233.8" font-size="8" text-anchor="end" fill="#000" font-weight="bold"  stroke="#000" stroke-width="0.22">4</text>
<line x1="251.9" y1="220.23" x2="253.5" y2="220.23" stroke="#000" stroke-width="0.8" />
<line x1="250.7" y1="209.35" x2="253.5" y2="209.35" stroke="#000" stroke-width="0.9" />
<text x="248.9" y="212.05" font-size="8" text-anchor="end" fill="#000" font-weight="bold"  stroke="#000" stroke-width="0.22">5</text>
<line x1="253.5" y1="362" x2="253.5" y2="364.8" stroke="#000" stroke-width="0.9" />
<text x="253.5" y="373.2" font-size="7.6" text-anchor="middle" fill="#000" font-weight="bold"  stroke="#000" stroke-width="0.22">0</text>
<line x1="271.78" y1="362" x2="271.78" y2="363.6" stroke="#000" stroke-width="0.8" />
<line x1="290.06" y1="362" x2="290.06" y2="364.8" stroke="#000" stroke-width="0.9" />
<text x="290.06" y="373.2" font-size="7.6" text-anchor="middle" fill="#000" font-weight="bold"  stroke="#000" stroke-width="0.22">2</text>
<line x1="308.34" y1="362" x2="308.34" y2="363.6" stroke="#000" stroke-width="0.8" />
<line x1="326.62" y1="362" x2="326.62" y2="364.8" stroke="#000" stroke-width="0.9" />
<text x="326.62" y="373.2" font-size="7.6" text-anchor="middle" fill="#000" font-weight="bold"  stroke="#000" stroke-width="0.22">4</text>
<line x1="344.9" y1="362" x2="344.9" y2="363.6" stroke="#000" stroke-width="0.8" />
<line x1="363.18" y1="362" x2="363.18" y2="364.8" stroke="#000" stroke-width="0.9" />
<text x="363.18" y="373.2" font-size="7.6" text-anchor="middle" fill="#000" font-weight="bold"  stroke="#000" stroke-width="0.22">6</text>
<line x1="381.46" y1="362" x2="381.46" y2="363.6" stroke="#000" stroke-width="0.8" />
<line x1="399.74" y1="362" x2="399.74" y2="364.8" stroke="#000" stroke-width="0.9" />
<text x="399.74" y="373.2" font-size="7.6" text-anchor="middle" fill="#000" font-weight="bold"  stroke="#000" stroke-width="0.22">8</text>
<line x1="418.02" y1="362" x2="418.02" y2="363.6" stroke="#000" stroke-width="0.8" />
<line x1="436.3" y1="362" x2="436.3" y2="364.8" stroke="#000" stroke-width="0.9" />
<text x="436.3" y="373.2" font-size="7.6" text-anchor="middle" fill="#000" font-weight="bold"  stroke="#000" stroke-width="0.22">10</text>
<line x1="454.58" y1="362" x2="454.58" y2="363.6" stroke="#000" stroke-width="0.8" />
<text x="353.9" y="382.8" font-size="8.35" text-anchor="middle" fill="#000" font-weight="bold"  stroke="#000" stroke-width="0.22">Capacity (mAh cm<tspan dy="-2.7" font-size="5.2">-2</tspan><tspan dy="2.7">&#8203;</tspan>)</text>
<text x="240.5" y="275.4" font-size="8.33" text-anchor="middle" fill="#000" font-weight="bold" transform="rotate(-90 240.5 275.4)"  stroke="#000" stroke-width="0.22">Potential (V <tspan font-style="italic">vs.</tspan> Zn/Zn<tspan dy="-2.6" font-size="5.2">2+</tspan><tspan dy="2.6">&#8203;</tspan>)</text>
<line x1="379.3" y1="255.5" x2="398.8" y2="255.5" stroke="#505050" stroke-width="1.2" />
<text x="401.1" y="258.5" font-size="8.4" text-anchor="start" fill="#000" font-weight="bold"  stroke="#000" stroke-width="0.22">2 mA cm<tspan dy="-2.8" font-size="5.3">-2</tspan><tspan dy="2.8">&#8203;</tspan></text>
<line x1="379.3" y1="267.1" x2="398.8" y2="267.1" stroke="#cf6a32" stroke-width="1.2" />
<text x="401.1" y="270.1" font-size="8.4" text-anchor="start" fill="#000" font-weight="bold"  stroke="#000" stroke-width="0.22">3 mA cm<tspan dy="-2.8" font-size="5.3">-2</tspan><tspan dy="2.8">&#8203;</tspan></text>
<line x1="379.3" y1="278.7" x2="398.8" y2="278.7" stroke="#d3d93a" stroke-width="1.2" />
<text x="401.1" y="281.7" font-size="8.4" text-anchor="start" fill="#000" font-weight="bold"  stroke="#000" stroke-width="0.22">4 mA cm<tspan dy="-2.8" font-size="5.3">-2</tspan><tspan dy="2.8">&#8203;</tspan></text>
<line x1="379.3" y1="290.3" x2="398.8" y2="290.3" stroke="#2ba27b" stroke-width="1.2" />
<text x="401.1" y="293.3" font-size="8.4" text-anchor="start" fill="#000" font-weight="bold"  stroke="#000" stroke-width="0.22">5 mA cm<tspan dy="-2.8" font-size="5.3">-2</tspan><tspan dy="2.8">&#8203;</tspan></text>
<line x1="379.3" y1="301.9" x2="398.8" y2="301.9" stroke="#3a7fc6" stroke-width="1.2" />
<text x="401.1" y="304.9" font-size="8.4" text-anchor="start" fill="#000" font-weight="bold"  stroke="#000" stroke-width="0.22">8 mA cm<tspan dy="-2.8" font-size="5.3">-2</tspan><tspan dy="2.8">&#8203;</tspan></text>
<line x1="379.3" y1="313.5" x2="398.8" y2="313.5" stroke="#a8318c" stroke-width="1.2" />
<text x="401.1" y="316.5" font-size="8.4" text-anchor="start" fill="#000" font-weight="bold"  stroke="#000" stroke-width="0.22">10 mA cm<tspan dy="-2.8" font-size="5.3">-2</tspan><tspan dy="2.8">&#8203;</tspan></text>
<text x="234.6" y="204" font-size="20.5" text-anchor="start" fill="#000" font-weight="normal"  stroke="#000" stroke-width="0.3">e</text>
<path d="M482.3 266.09 L482.82 266.2 L483.33 265.98 L483.84 265.73 L484.33 265.54 L484.82 265.51 L485.3 265.41 L485.78 265.3 L486.25 264.98 L486.71 264.95 L487.16 264.44 L487.6 264.39 L488.03 264 L488.44 264.01 L488.83 263.84 L489.21 262.83 L489.59 262.32 L489.97 262.53 L490.35 261.94 L490.75 261.82 L491.16 261.49 L491.6 261.8 L492.05 262.37 L492.52 262.64 L492.99 263.23 L493.45 263.6 L493.92 263.37 L494.38 263.72 L494.85 263.94 L495.32 264.18 L495.79 264.05 L496.27 264.18 L496.75 263.78 L497.23 263.21 L497.71 263.21 L498.18 263.14 L498.65 262.99 L499.11 262.6 L499.57 262.01 L500.03 262.21 L500.49 262.11 L500.95 261.91 L501.41 261.7 L501.88 261.75 L502.36 262.17 L502.83 261.89 L503.3 262.43 L503.78 262.44 L504.25 262.51 L504.72 263.3 L505.18 263.29 L505.64 263.44 L506.1 263.73 L506.55 264.39 L507.01 264.26 L507.46 264.86 L507.92 265.08 L508.38 264.8 L508.84 265.04 L509.3 265.32 L509.77 265.39 L510.24 265.76 L510.72 265.65 L511.19 266.05 L511.67 266.01 L512.15 266.58 L512.63 266.77 L513.11 266.75 L513.59 266.69 L514.08 266.63 L514.56 266.87 L515.05 266.57 L515.55 266.78 L516.04 266.73 L516.53 266.79 L517.03 266.97 L517.53 267.53 L518.03 267.33 L518.53 267.55 L519.02 267.58 L519.52 267.72 L520.02 268.15 L520.52 268.44 L521.02 268.55 L521.53 268.27 L522.03 268.24 L522.53 268.53 L523.04 268.37 L523.54 268.47 L524.04 268.38 L524.55 267.95 L525.05 268.26 L525.55 267.73 L526.06 267.94 L526.56 268.18 L527.06 268.02 L527.56 267.85 L528.07 268.04 L528.57 268.05 L529.07 267.83 L529.57 267.66 L530.07 268.29 L530.58 267.68 L531.08 267.96 L531.58 267.87 L532.08 267.23 L532.59 267.3 L533.09 267.61 L533.59 267.32 L534.09 267.13 L534.6 266.91 L535.1 266.83 L535.6 266.73 L536.1 266.96 L536.61 267.35 L537.11 267.41 L537.61 267.27 L538.11 267.2 L538.62 267.5 L539.12 267.1 L539.62 267.34 L540.12 266.97 L540.63 267.06 L541.13 267.34 L541.63 267.12 L542.13 267.16 L542.64 267 L543.14 266.86 L543.64 267.23 L544.14 267.49 L544.65 267.41 L545.15 267.53 L545.65 267.35 L546.15 266.98 L546.66 267.02 L547.16 267.17 L547.66 267.26 L548.16 267.26 L548.67 267.08 L549.17 266.86 L549.67 267.52 L550.17 266.85 L550.67 267.29 L551.18 266.67 L551.68 267.37 L552.18 266.84 L552.68 267.09 L553.19 266.62 L553.69 267.05 L554.19 266.81 L554.69 267.09 L555.2 267.03 L555.7 267.02 L556.2 267.18 L556.71 267.49 L557.21 266.84 L557.71 266.96 L558.21 266.97 L558.72 267.08 L559.22 266.81 L559.72 267.16 L560.22 266.77 L560.73 267.09 L561.23 266.73 L561.73 266.47 L562.23 266.91 L562.74 266.36 L563.24 266.54 L563.74 266.64 L564.25 266.89 L564.75 266.81 L565.25 266.37 L565.75 266.39 L566.26 266.59 L566.76 266.39 L567.26 266.88 L567.76 266.69 L568.26 266.69 L568.76 266.53 L569.26 266.33 L569.76 266.59 L570.26 266.16 L570.75 266.05 L571.25 265.66 L571.75 265.74 L572.25 265.53 L572.75 265.78 L573.25 265.3 L573.75 265.75 L574.25 265.55 L574.75 265.6 L575.25 265.3 L575.75 265.4 L576.25 265.12 L576.76 265.16 L577.26 264.94 L577.76 265.42 L578.27 265.32 L578.77 265.54 L579.27 265.35 L579.78 265.21 L580.28 265.68 L580.78 265.59 L581.28 265.3 L581.78 265.7 L582.29 265.61 L582.79 265.84 L583.29 265.68 L583.79 265.26 L584.29 265.27 L584.79 265.24 L585.29 264.96 L585.79 264.91 L586.29 264.62 L586.79 264.57 L587.29 264.93 L587.79 264.83 L588.29 265.07 L588.79 264.96 L589.29 264.72 L589.79 264.65 L590.29 264.93 L590.79 264.85 L591.29 264.78 L591.79 264.31 L592.29 264.39 L592.8 264.4 L593.3 264.54 L593.8 264.49 L594.3 264.82 L594.81 264.78 L595.31 264.7 L595.81 264.88 L596.32 264.7 L596.82 264.35 L597.32 264.53 L597.82 264.26 L598.33 264.19 L598.83 264.53 L599.33 264.2 L599.84 264.39 L600.34 264.28 L600.84 264.21 L601.34 264.63 L601.85 264.6 L602.35 264.73 L602.85 264.89 L603.35 265.21 L603.85 265.08 L604.36 264.97 L604.86 265 L605.36 264.49 L605.86 264.66 L606.36 264.52 L606.87 264.87 L607.37 264.25 L607.87 264.58 L608.37 264.45 L608.88 264.1 L609.38 264.65 L609.88 264.74 L610.38 264.53 L610.88 264.02 L611.38 264.5 L611.89 264.16 L612.39 264.18 L612.89 264.19 L613.39 263.83 L613.89 264.15 L614.39 263.85 L614.9 263.84 L615.4 263.98 L615.9 263.61 L616.4 263.52 L616.9 264.23 L617.4 263.84 L617.9 263.97 L618.41 263.62 L618.91 264.14 L619.41 264.35 L619.91 264.08 L620.41 264.35 L620.91 263.74 L621.41 263.77 L621.91 263.46 L622.42 263.29 L622.92 263.37 L623.42 262.89 L623.92 262.6 L624.42 262.94 L624.92 262.72 L625.43 262.99 L625.93 262.92 L626.43 262.77 L626.93 263.15 L627.43 263.15 L627.94 263.64 L628.44 263.04 L628.94 263.52 L629.44 263.09 L629.94 263.03 L630.45 262.74 L630.95 263.24 L631.45 262.92 L631.95 262.82 L632.45 262.98 L632.96 262.57 L633.46 262.54 L633.96 262.24 L634.46 261.8 L634.97 261.95 L635.47 261.6 L635.97 261.96 L636.47 262.14 L636.97 262.34 L637.48 262.12 L637.98 262.37 L638.48 262.88 L638.98 262.96 L639.48 262.8 L639.98 262.65 L640.49 262.94 L640.99 262.65 L641.49 262.22 L641.99 262.43 L642.49 262.4 L643 262.48 L643.5 262.26 L644 261.96 L644.5 262.11 L645 261.7 L645.5 262.16 L646.01 262 L646.51 261.72 L647.01 262.11 L647.51 262.18 L648.02 262.14 L648.52 262.2 L649.02 261.81 L649.52 262.16 L650.02 262 L650.53 262.07 L651.03 261.68 L651.53 261.59 L652.03 261.16 L652.54 261.75 L653.04 261.63 L653.54 261.8 L654.04 261.16 L654.55 261.2 L655.05 261.42 L655.55 261.58 L656.06 261.59 L656.56 262.21 L657.06 261.77 L657.56 261.75 L658.07 261.91 L658.57 262.11 L659.07 261.73 L659.57 261.98 L660.08 261.75 L660.58 261.76 L661.08 261 L661.59 261.47 L662.09 261.3 L662.59 261.33 L663.09 261.45 L663.6 261.53 L664.1 261.5 L664.6 261.47 L665.11 261.36 L665.61 261.93 L666.11 261.53 L666.62 261.55 L667.12 261.79 L667.62 261.83 L668.12 261.66 L668.63 261.35 L669.13 262.04 L669.63 261.7 L670.13 262.14 L670.64 261.86 L671.14 261.99 L671.64 262.17 L672.14 261.96 L672.64 262.08 L673.15 262.33 L673.65 261.99 L674.16 261.9 L674.66 262.26 L675.17 262.1 L675.66 262.13 L676.16 261.72 L676.65 261.81 L677.14 262.63 L677.62 262.37 L678.09 262.92 L678.57 263.28 L679.03 263.49 L679.5 263.68" fill="none" stroke="#5b2d84" stroke-width="2.3" stroke-linejoin="round" stroke-linecap="round" stroke-linecap="butt"/>
<path d="M481.05 265.9a1.25 1.25 0 1 0 2.5 0a1.25 1.25 0 1 0 -2.5 0M482.08 265.69a1.25 1.25 0 1 0 2.5 0a1.25 1.25 0 1 0 -2.5 0M483.08 264.93a1.25 1.25 0 1 0 2.5 0a1.25 1.25 0 1 0 -2.5 0M484.05 265.24a1.25 1.25 0 1 0 2.5 0a1.25 1.25 0 1 0 -2.5 0M485 264.99a1.25 1.25 0 1 0 2.5 0a1.25 1.25 0 1 0 -2.5 0M485.91 264.09a1.25 1.25 0 1 0 2.5 0a1.25 1.25 0 1 0 -2.5 0M486.78 264.66a1.25 1.25 0 1 0 2.5 0a1.25 1.25 0 1 0 -2.5 0M487.58 264.54a1.25 1.25 0 1 0 2.5 0a1.25 1.25 0 1 0 -2.5 0M488.34 262.03a1.25 1.25 0 1 0 2.5 0a1.25 1.25 0 1 0 -2.5 0M489.1 262.08a1.25 1.25 0 1 0 2.5 0a1.25 1.25 0 1 0 -2.5 0M489.91 262.02a1.25 1.25 0 1 0 2.5 0a1.25 1.25 0 1 0 -2.5 0M490.8 262.49a1.25 1.25 0 1 0 2.5 0a1.25 1.25 0 1 0 -2.5 0M491.74 263.02a1.25 1.25 0 1 0 2.5 0a1.25 1.25 0 1 0 -2.5 0M492.67 263.85a1.25 1.25 0 1 0 2.5 0a1.25 1.25 0 1 0 -2.5 0M493.6 263.98a1.25 1.25 0 1 0 2.5 0a1.25 1.25 0 1 0 -2.5 0M494.54 264.22a1.25 1.25 0 1 0 2.5 0a1.25 1.25 0 1 0 -2.5 0M495.5 264.14a1.25 1.25 0 1 0 2.5 0a1.25 1.25 0 1 0 -2.5 0M496.46 262.91a1.25 1.25 0 1 0 2.5 0a1.25 1.25 0 1 0 -2.5 0M497.4 263.25a1.25 1.25 0 1 0 2.5 0a1.25 1.25 0 1 0 -2.5 0M498.32 261.68a1.25 1.25 0 1 0 2.5 0a1.25 1.25 0 1 0 -2.5 0M499.24 262.32a1.25 1.25 0 1 0 2.5 0a1.25 1.25 0 1 0 -2.5 0M500.16 261.36a1.25 1.25 0 1 0 2.5 0a1.25 1.25 0 1 0 -2.5 0M501.11 262.59a1.25 1.25 0 1 0 2.5 0a1.25 1.25 0 1 0 -2.5 0M502.05 262.22a1.25 1.25 0 1 0 2.5 0a1.25 1.25 0 1 0 -2.5 0M503 263.16a1.25 1.25 0 1 0 2.5 0a1.25 1.25 0 1 0 -2.5 0M503.93 262.83a1.25 1.25 0 1 0 2.5 0a1.25 1.25 0 1 0 -2.5 0M504.85 264.03a1.25 1.25 0 1 0 2.5 0a1.25 1.25 0 1 0 -2.5 0M505.76 264.76a1.25 1.25 0 1 0 2.5 0a1.25 1.25 0 1 0 -2.5 0M506.67 265.6a1.25 1.25 0 1 0 2.5 0a1.25 1.25 0 1 0 -2.5 0M507.59 265.06a1.25 1.25 0 1 0 2.5 0a1.25 1.25 0 1 0 -2.5 0M508.52 265.46a1.25 1.25 0 1 0 2.5 0a1.25 1.25 0 1 0 -2.5 0M509.47 265.36a1.25 1.25 0 1 0 2.5 0a1.25 1.25 0 1 0 -2.5 0M510.42 266.5a1.25 1.25 0 1 0 2.5 0a1.25 1.25 0 1 0 -2.5 0M511.38 267.13a1.25 1.25 0 1 0 2.5 0a1.25 1.25 0 1 0 -2.5 0M512.34 266.71a1.25 1.25 0 1 0 2.5 0a1.25 1.25 0 1 0 -2.5 0M513.31 266.88a1.25 1.25 0 1 0 2.5 0a1.25 1.25 0 1 0 -2.5 0M514.3 267.37a1.25 1.25 0 1 0 2.5 0a1.25 1.25 0 1 0 -2.5 0M515.28 266.88a1.25 1.25 0 1 0 2.5 0a1.25 1.25 0 1 0 -2.5 0M516.28 266.96a1.25 1.25 0 1 0 2.5 0a1.25 1.25 0 1 0 -2.5 0M517.28 267a1.25 1.25 0 1 0 2.5 0a1.25 1.25 0 1 0 -2.5 0M518.27 268.09a1.25 1.25 0 1 0 2.5 0a1.25 1.25 0 1 0 -2.5 0M519.27 268.48a1.25 1.25 0 1 0 2.5 0a1.25 1.25 0 1 0 -2.5 0M520.28 268.35a1.25 1.25 0 1 0 2.5 0a1.25 1.25 0 1 0 -2.5 0M521.28 268.44a1.25 1.25 0 1 0 2.5 0a1.25 1.25 0 1 0 -2.5 0M522.29 267.8a1.25 1.25 0 1 0 2.5 0a1.25 1.25 0 1 0 -2.5 0M523.3 268.37a1.25 1.25 0 1 0 2.5 0a1.25 1.25 0 1 0 -2.5 0M524.3 267.56a1.25 1.25 0 1 0 2.5 0a1.25 1.25 0 1 0 -2.5 0M525.31 268.13a1.25 1.25 0 1 0 2.5 0a1.25 1.25 0 1 0 -2.5 0M526.31 267.77a1.25 1.25 0 1 0 2.5 0a1.25 1.25 0 1 0 -2.5 0M527.32 267.53a1.25 1.25 0 1 0 2.5 0a1.25 1.25 0 1 0 -2.5 0M528.32 268.31a1.25 1.25 0 1 0 2.5 0a1.25 1.25 0 1 0 -2.5 0M529.33 268.32a1.25 1.25 0 1 0 2.5 0a1.25 1.25 0 1 0 -2.5 0M530.33 267.19a1.25 1.25 0 1 0 2.5 0a1.25 1.25 0 1 0 -2.5 0M531.34 266.68a1.25 1.25 0 1 0 2.5 0a1.25 1.25 0 1 0 -2.5 0M532.34 267.16a1.25 1.25 0 1 0 2.5 0a1.25 1.25 0 1 0 -2.5 0M533.35 267.58a1.25 1.25 0 1 0 2.5 0a1.25 1.25 0 1 0 -2.5 0M534.35 266.7a1.25 1.25 0 1 0 2.5 0a1.25 1.25 0 1 0 -2.5 0M535.36 267.94a1.25 1.25 0 1 0 2.5 0a1.25 1.25 0 1 0 -2.5 0M536.36 267.05a1.25 1.25 0 1 0 2.5 0a1.25 1.25 0 1 0 -2.5 0M537.37 267.49a1.25 1.25 0 1 0 2.5 0a1.25 1.25 0 1 0 -2.5 0M538.37 267.8a1.25 1.25 0 1 0 2.5 0a1.25 1.25 0 1 0 -2.5 0M539.38 267.28a1.25 1.25 0 1 0 2.5 0a1.25 1.25 0 1 0 -2.5 0M540.38 266.85a1.25 1.25 0 1 0 2.5 0a1.25 1.25 0 1 0 -2.5 0M541.39 266.94a1.25 1.25 0 1 0 2.5 0a1.25 1.25 0 1 0 -2.5 0M542.39 267.41a1.25 1.25 0 1 0 2.5 0a1.25 1.25 0 1 0 -2.5 0M543.4 267.27a1.25 1.25 0 1 0 2.5 0a1.25 1.25 0 1 0 -2.5 0M544.4 266.93a1.25 1.25 0 1 0 2.5 0a1.25 1.25 0 1 0 -2.5 0M545.41 266.63a1.25 1.25 0 1 0 2.5 0a1.25 1.25 0 1 0 -2.5 0M546.41 267.6a1.25 1.25 0 1 0 2.5 0a1.25 1.25 0 1 0 -2.5 0M547.42 266.68a1.25 1.25 0 1 0 2.5 0a1.25 1.25 0 1 0 -2.5 0M548.42 267.08a1.25 1.25 0 1 0 2.5 0a1.25 1.25 0 1 0 -2.5 0M549.42 266.99a1.25 1.25 0 1 0 2.5 0a1.25 1.25 0 1 0 -2.5 0M550.43 268.06a1.25 1.25 0 1 0 2.5 0a1.25 1.25 0 1 0 -2.5 0M551.43 267.78a1.25 1.25 0 1 0 2.5 0a1.25 1.25 0 1 0 -2.5 0M552.44 267.02a1.25 1.25 0 1 0 2.5 0a1.25 1.25 0 1 0 -2.5 0M553.44 266.69a1.25 1.25 0 1 0 2.5 0a1.25 1.25 0 1 0 -2.5 0M554.45 266.94a1.25 1.25 0 1 0 2.5 0a1.25 1.25 0 1 0 -2.5 0M555.46 268.03a1.25 1.25 0 1 0 2.5 0a1.25 1.25 0 1 0 -2.5 0M556.46 267.07a1.25 1.25 0 1 0 2.5 0a1.25 1.25 0 1 0 -2.5 0M557.47 267.64a1.25 1.25 0 1 0 2.5 0a1.25 1.25 0 1 0 -2.5 0M558.47 267.7a1.25 1.25 0 1 0 2.5 0a1.25 1.25 0 1 0 -2.5 0M559.48 267.53a1.25 1.25 0 1 0 2.5 0a1.25 1.25 0 1 0 -2.5 0M560.48 267a1.25 1.25 0 1 0 2.5 0a1.25 1.25 0 1 0 -2.5 0M561.49 266.38a1.25 1.25 0 1 0 2.5 0a1.25 1.25 0 1 0 -2.5 0M562.49 266.17a1.25 1.25 0 1 0 2.5 0a1.25 1.25 0 1 0 -2.5 0M563.5 267.2a1.25 1.25 0 1 0 2.5 0a1.25 1.25 0 1 0 -2.5 0M564.5 267.08a1.25 1.25 0 1 0 2.5 0a1.25 1.25 0 1 0 -2.5 0M565.51 266.61a1.25 1.25 0 1 0 2.5 0a1.25 1.25 0 1 0 -2.5 0M566.51 266.33a1.25 1.25 0 1 0 2.5 0a1.25 1.25 0 1 0 -2.5 0M567.51 267.12a1.25 1.25 0 1 0 2.5 0a1.25 1.25 0 1 0 -2.5 0M568.51 267.18a1.25 1.25 0 1 0 2.5 0a1.25 1.25 0 1 0 -2.5 0M569.5 266.64a1.25 1.25 0 1 0 2.5 0a1.25 1.25 0 1 0 -2.5 0M570.5 265.97a1.25 1.25 0 1 0 2.5 0a1.25 1.25 0 1 0 -2.5 0M571.5 266.4a1.25 1.25 0 1 0 2.5 0a1.25 1.25 0 1 0 -2.5 0M572.5 265.37a1.25 1.25 0 1 0 2.5 0a1.25 1.25 0 1 0 -2.5 0M573.5 265.7a1.25 1.25 0 1 0 2.5 0a1.25 1.25 0 1 0 -2.5 0M574.5 266.09a1.25 1.25 0 1 0 2.5 0a1.25 1.25 0 1 0 -2.5 0M575.51 265.86a1.25 1.25 0 1 0 2.5 0a1.25 1.25 0 1 0 -2.5 0M576.51 265.84a1.25 1.25 0 1 0 2.5 0a1.25 1.25 0 1 0 -2.5 0M577.52 265.66a1.25 1.25 0 1 0 2.5 0a1.25 1.25 0 1 0 -2.5 0M578.53 265.39a1.25 1.25 0 1 0 2.5 0a1.25 1.25 0 1 0 -2.5 0M579.53 265.44a1.25 1.25 0 1 0 2.5 0a1.25 1.25 0 1 0 -2.5 0M580.53 265.31a1.25 1.25 0 1 0 2.5 0a1.25 1.25 0 1 0 -2.5 0M581.54 266.4a1.25 1.25 0 1 0 2.5 0a1.25 1.25 0 1 0 -2.5 0M582.54 265.38a1.25 1.25 0 1 0 2.5 0a1.25 1.25 0 1 0 -2.5 0M583.54 265.05a1.25 1.25 0 1 0 2.5 0a1.25 1.25 0 1 0 -2.5 0M584.54 264.67a1.25 1.25 0 1 0 2.5 0a1.25 1.25 0 1 0 -2.5 0M585.54 264.11a1.25 1.25 0 1 0 2.5 0a1.25 1.25 0 1 0 -2.5 0M586.54 264.39a1.25 1.25 0 1 0 2.5 0a1.25 1.25 0 1 0 -2.5 0M587.54 265.2a1.25 1.25 0 1 0 2.5 0a1.25 1.25 0 1 0 -2.5 0M588.54 264.36a1.25 1.25 0 1 0 2.5 0a1.25 1.25 0 1 0 -2.5 0M589.54 264.6a1.25 1.25 0 1 0 2.5 0a1.25 1.25 0 1 0 -2.5 0M590.54 264.79a1.25 1.25 0 1 0 2.5 0a1.25 1.25 0 1 0 -2.5 0M591.55 263.83a1.25 1.25 0 1 0 2.5 0a1.25 1.25 0 1 0 -2.5 0M592.55 265.12a1.25 1.25 0 1 0 2.5 0a1.25 1.25 0 1 0 -2.5 0M593.56 264.66a1.25 1.25 0 1 0 2.5 0a1.25 1.25 0 1 0 -2.5 0M594.56 265.34a1.25 1.25 0 1 0 2.5 0a1.25 1.25 0 1 0 -2.5 0M595.57 264.8a1.25 1.25 0 1 0 2.5 0a1.25 1.25 0 1 0 -2.5 0M596.57 264.51a1.25 1.25 0 1 0 2.5 0a1.25 1.25 0 1 0 -2.5 0M597.58 263.9a1.25 1.25 0 1 0 2.5 0a1.25 1.25 0 1 0 -2.5 0M598.59 264.61a1.25 1.25 0 1 0 2.5 0a1.25 1.25 0 1 0 -2.5 0M599.59 264.13a1.25 1.25 0 1 0 2.5 0a1.25 1.25 0 1 0 -2.5 0M600.6 264.33a1.25 1.25 0 1 0 2.5 0a1.25 1.25 0 1 0 -2.5 0M601.6 264.92a1.25 1.25 0 1 0 2.5 0a1.25 1.25 0 1 0 -2.5 0M602.6 265.31a1.25 1.25 0 1 0 2.5 0a1.25 1.25 0 1 0 -2.5 0M603.61 264.84a1.25 1.25 0 1 0 2.5 0a1.25 1.25 0 1 0 -2.5 0M604.61 264.54a1.25 1.25 0 1 0 2.5 0a1.25 1.25 0 1 0 -2.5 0M605.62 264.47a1.25 1.25 0 1 0 2.5 0a1.25 1.25 0 1 0 -2.5 0M606.62 264.12a1.25 1.25 0 1 0 2.5 0a1.25 1.25 0 1 0 -2.5 0M607.63 264.27a1.25 1.25 0 1 0 2.5 0a1.25 1.25 0 1 0 -2.5 0M608.63 265.41a1.25 1.25 0 1 0 2.5 0a1.25 1.25 0 1 0 -2.5 0M609.63 263.46a1.25 1.25 0 1 0 2.5 0a1.25 1.25 0 1 0 -2.5 0M610.64 264.38a1.25 1.25 0 1 0 2.5 0a1.25 1.25 0 1 0 -2.5 0M611.64 264.33a1.25 1.25 0 1 0 2.5 0a1.25 1.25 0 1 0 -2.5 0M612.64 264.5a1.25 1.25 0 1 0 2.5 0a1.25 1.25 0 1 0 -2.5 0M613.65 263.59a1.25 1.25 0 1 0 2.5 0a1.25 1.25 0 1 0 -2.5 0M614.65 263.27a1.25 1.25 0 1 0 2.5 0a1.25 1.25 0 1 0 -2.5 0M615.65 263.93a1.25 1.25 0 1 0 2.5 0a1.25 1.25 0 1 0 -2.5 0M616.65 264.45a1.25 1.25 0 1 0 2.5 0a1.25 1.25 0 1 0 -2.5 0M617.66 264.63a1.25 1.25 0 1 0 2.5 0a1.25 1.25 0 1 0 -2.5 0M618.66 264.52a1.25 1.25 0 1 0 2.5 0a1.25 1.25 0 1 0 -2.5 0M619.66 263.43a1.25 1.25 0 1 0 2.5 0a1.25 1.25 0 1 0 -2.5 0M620.66 263.28a1.25 1.25 0 1 0 2.5 0a1.25 1.25 0 1 0 -2.5 0M621.67 263.08a1.25 1.25 0 1 0 2.5 0a1.25 1.25 0 1 0 -2.5 0M622.67 262.86a1.25 1.25 0 1 0 2.5 0a1.25 1.25 0 1 0 -2.5 0M623.67 262.35a1.25 1.25 0 1 0 2.5 0a1.25 1.25 0 1 0 -2.5 0M624.68 263.26a1.25 1.25 0 1 0 2.5 0a1.25 1.25 0 1 0 -2.5 0M625.68 263.56a1.25 1.25 0 1 0 2.5 0a1.25 1.25 0 1 0 -2.5 0M626.69 263.69a1.25 1.25 0 1 0 2.5 0a1.25 1.25 0 1 0 -2.5 0M627.69 263.07a1.25 1.25 0 1 0 2.5 0a1.25 1.25 0 1 0 -2.5 0M628.69 262.7a1.25 1.25 0 1 0 2.5 0a1.25 1.25 0 1 0 -2.5 0M629.7 263.33a1.25 1.25 0 1 0 2.5 0a1.25 1.25 0 1 0 -2.5 0M630.7 263.15a1.25 1.25 0 1 0 2.5 0a1.25 1.25 0 1 0 -2.5 0M631.71 262.15a1.25 1.25 0 1 0 2.5 0a1.25 1.25 0 1 0 -2.5 0M632.71 262.45a1.25 1.25 0 1 0 2.5 0a1.25 1.25 0 1 0 -2.5 0M633.72 262.52a1.25 1.25 0 1 0 2.5 0a1.25 1.25 0 1 0 -2.5 0M634.72 262.28a1.25 1.25 0 1 0 2.5 0a1.25 1.25 0 1 0 -2.5 0M635.72 262.88a1.25 1.25 0 1 0 2.5 0a1.25 1.25 0 1 0 -2.5 0M636.73 263.01a1.25 1.25 0 1 0 2.5 0a1.25 1.25 0 1 0 -2.5 0M637.73 262.65a1.25 1.25 0 1 0 2.5 0a1.25 1.25 0 1 0 -2.5 0M638.73 262.24a1.25 1.25 0 1 0 2.5 0a1.25 1.25 0 1 0 -2.5 0M639.74 263.21a1.25 1.25 0 1 0 2.5 0a1.25 1.25 0 1 0 -2.5 0M640.74 262.27a1.25 1.25 0 1 0 2.5 0a1.25 1.25 0 1 0 -2.5 0M641.75 261.93a1.25 1.25 0 1 0 2.5 0a1.25 1.25 0 1 0 -2.5 0M642.75 262.14a1.25 1.25 0 1 0 2.5 0a1.25 1.25 0 1 0 -2.5 0M643.75 261.67a1.25 1.25 0 1 0 2.5 0a1.25 1.25 0 1 0 -2.5 0M644.76 261.57a1.25 1.25 0 1 0 2.5 0a1.25 1.25 0 1 0 -2.5 0M645.76 262.69a1.25 1.25 0 1 0 2.5 0a1.25 1.25 0 1 0 -2.5 0M646.77 262.11a1.25 1.25 0 1 0 2.5 0a1.25 1.25 0 1 0 -2.5 0M647.77 262.5a1.25 1.25 0 1 0 2.5 0a1.25 1.25 0 1 0 -2.5 0M648.77 261.69a1.25 1.25 0 1 0 2.5 0a1.25 1.25 0 1 0 -2.5 0M649.78 261.06a1.25 1.25 0 1 0 2.5 0a1.25 1.25 0 1 0 -2.5 0M650.78 261.73a1.25 1.25 0 1 0 2.5 0a1.25 1.25 0 1 0 -2.5 0M651.79 261.35a1.25 1.25 0 1 0 2.5 0a1.25 1.25 0 1 0 -2.5 0M652.79 261.76a1.25 1.25 0 1 0 2.5 0a1.25 1.25 0 1 0 -2.5 0M653.8 261.4a1.25 1.25 0 1 0 2.5 0a1.25 1.25 0 1 0 -2.5 0M654.81 261.86a1.25 1.25 0 1 0 2.5 0a1.25 1.25 0 1 0 -2.5 0M655.81 261.23a1.25 1.25 0 1 0 2.5 0a1.25 1.25 0 1 0 -2.5 0M656.82 261.58a1.25 1.25 0 1 0 2.5 0a1.25 1.25 0 1 0 -2.5 0M657.82 261.99a1.25 1.25 0 1 0 2.5 0a1.25 1.25 0 1 0 -2.5 0M658.83 262.39a1.25 1.25 0 1 0 2.5 0a1.25 1.25 0 1 0 -2.5 0M659.83 261.45a1.25 1.25 0 1 0 2.5 0a1.25 1.25 0 1 0 -2.5 0M660.84 261.86a1.25 1.25 0 1 0 2.5 0a1.25 1.25 0 1 0 -2.5 0M661.84 261.83a1.25 1.25 0 1 0 2.5 0a1.25 1.25 0 1 0 -2.5 0M662.85 262.17a1.25 1.25 0 1 0 2.5 0a1.25 1.25 0 1 0 -2.5 0M663.86 261a1.25 1.25 0 1 0 2.5 0a1.25 1.25 0 1 0 -2.5 0M664.86 261a1.25 1.25 0 1 0 2.5 0a1.25 1.25 0 1 0 -2.5 0M665.87 261.43a1.25 1.25 0 1 0 2.5 0a1.25 1.25 0 1 0 -2.5 0M666.87 261.77a1.25 1.25 0 1 0 2.5 0a1.25 1.25 0 1 0 -2.5 0M667.88 261.85a1.25 1.25 0 1 0 2.5 0a1.25 1.25 0 1 0 -2.5 0M668.88 261.48a1.25 1.25 0 1 0 2.5 0a1.25 1.25 0 1 0 -2.5 0M669.89 261.47a1.25 1.25 0 1 0 2.5 0a1.25 1.25 0 1 0 -2.5 0M670.89 261.66a1.25 1.25 0 1 0 2.5 0a1.25 1.25 0 1 0 -2.5 0M671.9 262.1a1.25 1.25 0 1 0 2.5 0a1.25 1.25 0 1 0 -2.5 0M672.91 261.64a1.25 1.25 0 1 0 2.5 0a1.25 1.25 0 1 0 -2.5 0M673.92 262.19a1.25 1.25 0 1 0 2.5 0a1.25 1.25 0 1 0 -2.5 0M674.91 261.93a1.25 1.25 0 1 0 2.5 0a1.25 1.25 0 1 0 -2.5 0M675.89 263.11a1.25 1.25 0 1 0 2.5 0a1.25 1.25 0 1 0 -2.5 0M676.84 262.76a1.25 1.25 0 1 0 2.5 0a1.25 1.25 0 1 0 -2.5 0M677.78 264.1a1.25 1.25 0 1 0 2.5 0a1.25 1.25 0 1 0 -2.5 0" fill="none" stroke="#5b2d84" stroke-width="0.55"/>
<path d="M482.3 266.09 L483.84 265.73 L485.3 265.41 L486.71 264.95 L488.03 264 L489.21 262.83 L490.35 261.94 L491.6 261.8 L492.99 263.23 L494.38 263.72 L495.79 264.05 L497.23 263.21 L498.65 262.99 L500.03 262.21 L501.41 261.7 L502.83 261.89 L504.25 262.51 L505.64 263.44 L507.01 264.26 L508.38 264.8 L509.77 265.39 L511.19 266.05 L512.63 266.77 L514.08 266.63 L515.55 266.78 L517.03 266.97 L518.53 267.55 L520.02 268.15 L521.53 268.27 L523.04 268.37 L524.55 267.95 L526.06 267.94 L527.56 267.85 L529.07 267.83 L530.58 267.68 L532.08 267.23 L533.59 267.32 L535.1 266.83 L536.61 267.35 L538.11 267.2 L539.62 267.34 L541.13 267.34 L542.64 267 L544.14 267.49 L545.65 267.35 L547.16 267.17 L548.67 267.08 L550.17 266.85 L551.68 267.37 L553.19 266.62 L554.69 267.09 L556.2 267.18 L557.71 266.96 L559.22 266.81 L560.73 267.09 L562.23 266.91 L563.74 266.64 L565.25 266.37 L566.76 266.39 L568.26 266.69 L569.76 266.59 L571.25 265.66 L572.75 265.78 L574.25 265.55 L575.75 265.4 L577.26 264.94 L578.77 265.54 L580.28 265.68 L581.78 265.7 L583.29 265.68 L584.79 265.24 L586.29 264.62 L587.79 264.83 L589.29 264.72 L590.79 264.85 L592.29 264.39 L593.8 264.49 L595.31 264.7 L596.82 264.35 L598.33 264.19 L599.84 264.39 L601.34 264.63 L602.85 264.89 L604.36 264.97 L605.86 264.66 L607.37 264.25 L608.88 264.1 L610.38 264.53 L611.89 264.16 L613.39 263.83 L614.9 263.84 L616.4 263.52 L617.9 263.97 L619.41 264.35 L620.91 263.74 L622.42 263.29 L623.92 262.6 L625.43 262.99 L626.93 263.15 L628.44 263.04 L629.94 263.03 L631.45 262.92 L632.96 262.57 L634.46 261.8 L635.97 261.96 L637.48 262.12 L638.98 262.96 L640.49 262.94 L641.99 262.43 L643.5 262.26 L645 261.7 L646.51 261.72 L648.02 262.14 L649.52 262.16 L651.03 261.68 L652.54 261.75 L654.04 261.16 L655.55 261.58 L657.06 261.77 L658.57 262.11 L660.08 261.75 L661.59 261.47 L663.09 261.45 L664.6 261.47 L666.11 261.53 L667.62 261.83 L669.13 262.04 L670.64 261.86 L672.14 261.96 L673.65 261.99 L675.17 262.1 L676.65 261.81 L678.09 262.92 L679.5 263.68" fill="none" stroke="#a283c2" stroke-width="0.7" stroke-dasharray="0.8 1.1" opacity="0.9"/>
<text x="502.6" y="254.8" font-size="8.15" text-anchor="start" fill="#5b2d84" font-weight="bold"  stroke="#5b2d84" stroke-width="0.22">5 mA cm<tspan dy="-2.7" font-size="5.1">-2</tspan><tspan dy="2.7">&#8203;</tspan></text>
<line x1="482.3" y1="201.4" x2="680" y2="201.4" stroke="#000" stroke-width="1.0" />
<line x1="679.5" y1="201.4" x2="679.5" y2="359.4" stroke="#000" stroke-width="1.0" />
<line x1="482.3" y1="359.4" x2="679.9" y2="359.4" stroke="#000" stroke-width="1.3" />
<line x1="482.3" y1="201" x2="482.3" y2="360" stroke="#000" stroke-width="1.3" />
<line x1="479.5" y1="359.4" x2="482.3" y2="359.4" stroke="#000" stroke-width="0.9" />
<text x="477.7" y="362" font-size="7.6" text-anchor="end" fill="#000" font-weight="bold"  stroke="#000" stroke-width="0.22">2</text>
<line x1="480.7" y1="346.23" x2="482.3" y2="346.23" stroke="#000" stroke-width="0.8" />
<line x1="479.5" y1="333.07" x2="482.3" y2="333.07" stroke="#000" stroke-width="0.9" />
<text x="477.7" y="335.67" font-size="7.6" text-anchor="end" fill="#000" font-weight="bold"  stroke="#000" stroke-width="0.22">3</text>
<line x1="480.7" y1="319.9" x2="482.3" y2="319.9" stroke="#000" stroke-width="0.8" />
<line x1="479.5" y1="306.74" x2="482.3" y2="306.74" stroke="#000" stroke-width="0.9" />
<text x="477.7" y="309.34" font-size="7.6" text-anchor="end" fill="#000" font-weight="bold"  stroke="#000" stroke-width="0.22">4</text>
<line x1="480.7" y1="293.57" x2="482.3" y2="293.57" stroke="#000" stroke-width="0.8" />
<line x1="479.5" y1="280.41" x2="482.3" y2="280.41" stroke="#000" stroke-width="0.9" />
<text x="477.7" y="283.01" font-size="7.6" text-anchor="end" fill="#000" font-weight="bold"  stroke="#000" stroke-width="0.22">5</text>
<line x1="480.7" y1="267.25" x2="482.3" y2="267.25" stroke="#000" stroke-width="0.8" />
<line x1="479.5" y1="254.08" x2="482.3" y2="254.08" stroke="#000" stroke-width="0.9" />
<text x="477.7" y="256.68" font-size="7.6" text-anchor="end" fill="#000" font-weight="bold"  stroke="#000" stroke-width="0.22">6</text>
<line x1="480.7" y1="240.91" x2="482.3" y2="240.91" stroke="#000" stroke-width="0.8" />
<line x1="479.5" y1="227.75" x2="482.3" y2="227.75" stroke="#000" stroke-width="0.9" />
<text x="477.7" y="230.35" font-size="7.6" text-anchor="end" fill="#000" font-weight="bold"  stroke="#000" stroke-width="0.22">7</text>
<line x1="480.7" y1="214.58" x2="482.3" y2="214.58" stroke="#000" stroke-width="0.8" />
<line x1="479.5" y1="201.42" x2="482.3" y2="201.42" stroke="#000" stroke-width="0.9" />
<text x="477.7" y="204.02" font-size="7.6" text-anchor="end" fill="#000" font-weight="bold"  stroke="#000" stroke-width="0.22">8</text>
<line x1="482.3" y1="359.4" x2="482.3" y2="362.2" stroke="#000" stroke-width="0.9" />
<text x="482.3" y="371" font-size="7.6" text-anchor="middle" fill="#000" font-weight="bold"  stroke="#000" stroke-width="0.22">0</text>
<line x1="502.02" y1="359.4" x2="502.02" y2="361" stroke="#000" stroke-width="0.8" />
<line x1="521.74" y1="359.4" x2="521.74" y2="362.2" stroke="#000" stroke-width="0.9" />
<text x="521.74" y="371" font-size="7.6" text-anchor="middle" fill="#000" font-weight="bold"  stroke="#000" stroke-width="0.22">3</text>
<line x1="541.46" y1="359.4" x2="541.46" y2="361" stroke="#000" stroke-width="0.8" />
<line x1="561.18" y1="359.4" x2="561.18" y2="362.2" stroke="#000" stroke-width="0.9" />
<text x="561.18" y="371" font-size="7.6" text-anchor="middle" fill="#000" font-weight="bold"  stroke="#000" stroke-width="0.22">6</text>
<line x1="580.9" y1="359.4" x2="580.9" y2="361" stroke="#000" stroke-width="0.8" />
<line x1="600.62" y1="359.4" x2="600.62" y2="362.2" stroke="#000" stroke-width="0.9" />
<text x="600.62" y="371" font-size="7.6" text-anchor="middle" fill="#000" font-weight="bold"  stroke="#000" stroke-width="0.22">9</text>
<line x1="620.34" y1="359.4" x2="620.34" y2="361" stroke="#000" stroke-width="0.8" />
<line x1="640.06" y1="359.4" x2="640.06" y2="362.2" stroke="#000" stroke-width="0.9" />
<text x="640.06" y="371" font-size="7.6" text-anchor="middle" fill="#000" font-weight="bold"  stroke="#000" stroke-width="0.22">12</text>
<line x1="659.78" y1="359.4" x2="659.78" y2="361" stroke="#000" stroke-width="0.8" />
<line x1="679.5" y1="359.4" x2="679.5" y2="362.2" stroke="#000" stroke-width="0.9" />
<text x="679.5" y="371" font-size="7.6" text-anchor="middle" fill="#000" font-weight="bold"  stroke="#000" stroke-width="0.22">15</text>
<text x="581.2" y="378.7" font-size="8.0" text-anchor="middle" fill="#000" font-weight="bold"  stroke="#000" stroke-width="0.22">Time (h)</text>
<text x="469" y="280.2" font-size="8.18" text-anchor="middle" fill="#000" font-weight="bold" transform="rotate(-90 469 280.2)"  stroke="#000" stroke-width="0.22">Potential (V <tspan font-style="italic">vs.</tspan> Zn/Zn<tspan dy="-2.6" font-size="5.2">2+</tspan><tspan dy="2.6">&#8203;</tspan>)</text>
<text x="461.1" y="207.7" font-size="20.5" text-anchor="start" fill="#000" font-weight="normal"  stroke="#000" stroke-width="0.3">f</text>
</svg>
</body></html>
